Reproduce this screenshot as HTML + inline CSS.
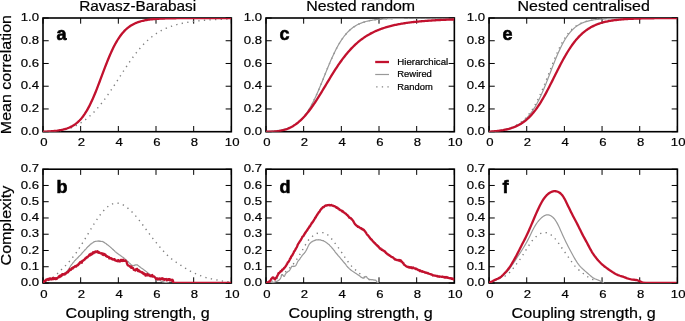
<!DOCTYPE html><html><head><meta charset="utf-8"><style>html,body{margin:0;padding:0;background:#fff;}svg{display:block;will-change:transform;}text{font-family:"Liberation Sans",sans-serif;fill:#000;stroke:#000;stroke-width:0.2px;}</style></head><body>
<svg width="685" height="321" viewBox="0 0 685 321">
<rect width="685" height="321" fill="#fff"/>
<path d="M43.00,131.70v-5.7M43.00,18.00v5.7M80.67,131.70v-5.7M80.67,18.00v5.7M118.34,131.70v-5.7M118.34,18.00v5.7M156.01,131.70v-5.7M156.01,18.00v5.7M193.68,131.70v-5.7M193.68,18.00v5.7M231.35,131.70v-5.7M231.35,18.00v5.7M43.00,131.70h5.7M231.35,131.70h-5.7M43.00,108.96h5.7M231.35,108.96h-5.7M43.00,86.22h5.7M231.35,86.22h-5.7M43.00,63.48h5.7M231.35,63.48h-5.7M43.00,40.74h5.7M231.35,40.74h-5.7M43.00,18.00h5.7M231.35,18.00h-5.7" stroke="#000" stroke-width="1" fill="none"/>
<text x="43.80" y="146.20" font-size="11.5" text-anchor="middle" textLength="7.31" lengthAdjust="spacingAndGlyphs">0</text>
<text x="81.47" y="146.20" font-size="11.5" text-anchor="middle" textLength="7.31" lengthAdjust="spacingAndGlyphs">2</text>
<text x="119.14" y="146.20" font-size="11.5" text-anchor="middle" textLength="7.31" lengthAdjust="spacingAndGlyphs">4</text>
<text x="156.81" y="146.20" font-size="11.5" text-anchor="middle" textLength="7.31" lengthAdjust="spacingAndGlyphs">6</text>
<text x="194.48" y="146.20" font-size="11.5" text-anchor="middle" textLength="7.31" lengthAdjust="spacingAndGlyphs">8</text>
<text x="232.15" y="146.20" font-size="11.5" text-anchor="middle" textLength="14.63" lengthAdjust="spacingAndGlyphs">10</text>
<text x="39.00" y="134.80" font-size="11.5" text-anchor="end" textLength="18.29" lengthAdjust="spacingAndGlyphs">0.0</text>
<text x="39.00" y="112.06" font-size="11.5" text-anchor="end" textLength="18.29" lengthAdjust="spacingAndGlyphs">0.2</text>
<text x="39.00" y="89.32" font-size="11.5" text-anchor="end" textLength="18.29" lengthAdjust="spacingAndGlyphs">0.4</text>
<text x="39.00" y="66.58" font-size="11.5" text-anchor="end" textLength="18.29" lengthAdjust="spacingAndGlyphs">0.6</text>
<text x="39.00" y="43.84" font-size="11.5" text-anchor="end" textLength="18.29" lengthAdjust="spacingAndGlyphs">0.8</text>
<text x="39.00" y="21.10" font-size="11.5" text-anchor="end" textLength="18.29" lengthAdjust="spacingAndGlyphs">1.0</text>
<rect x="43.00" y="18.00" width="188.35" height="113.70" fill="none" stroke="#000" stroke-width="1.6"/>
<clipPath id="c00"><rect x="43.00" y="18.00" width="188.35" height="113.70"/></clipPath>
<g clip-path="url(#c00)">
<path d="M43.00,131.70 L43.94,131.70 L44.88,131.70 L45.83,131.69 L46.77,131.68 L47.71,131.67 L48.65,131.65 L49.59,131.63 L50.53,131.59 L51.48,131.55 L52.42,131.50 L53.36,131.44 L54.30,131.38 L55.24,131.30 L56.18,131.21 L57.13,131.10 L58.07,130.99 L59.01,130.86 L59.95,130.72 L60.89,130.56 L61.84,130.39 L62.78,130.20 L63.72,130.00 L64.66,129.78 L65.60,129.55 L66.54,129.29 L67.49,129.02 L68.43,128.73 L69.37,128.42 L70.31,128.09 L71.25,127.74 L72.19,127.37 L73.14,126.98 L74.08,126.56 L75.02,126.12 L75.96,125.67 L76.90,125.18 L77.84,124.68 L78.79,124.15 L79.73,123.60 L80.67,123.02 L81.61,122.41 L82.55,121.78 L83.50,121.13 L84.44,120.45 L85.38,119.74 L86.32,119.01 L87.26,118.25 L88.20,117.46 L89.15,116.64 L90.09,115.80 L91.03,114.93 L91.97,114.03 L92.91,113.10 L93.85,112.15 L94.80,111.16 L95.74,110.15 L96.68,109.12 L97.62,108.05 L98.56,106.96 L99.50,105.84 L100.45,104.70 L101.39,103.53 L102.33,102.33 L103.27,101.11 L104.21,99.86 L105.16,98.60 L106.10,97.31 L107.04,96.00 L107.98,94.66 L108.92,93.31 L109.86,91.94 L110.81,90.56 L111.75,89.16 L112.69,87.74 L113.63,86.32 L114.57,84.88 L115.51,83.43 L116.46,81.97 L117.40,80.51 L118.34,79.05 L119.28,77.58 L120.22,76.11 L121.17,74.65 L122.11,73.19 L123.05,71.73 L123.99,70.28 L124.93,68.84 L125.87,67.41 L126.82,65.99 L127.76,64.58 L128.70,63.19 L129.64,61.82 L130.58,60.47 L131.52,59.14 L132.47,57.83 L133.41,56.54 L134.35,55.27 L135.29,54.03 L136.23,52.82 L137.18,51.63 L138.12,50.47 L139.06,49.34 L140.00,48.23 L140.94,47.16 L141.88,46.11 L142.83,45.09 L143.77,44.10 L144.71,43.14 L145.65,42.21 L146.59,41.31 L147.53,40.43 L148.48,39.59 L149.42,38.77 L150.36,37.98 L151.30,37.22 L152.24,36.48 L153.18,35.77 L154.13,35.08 L155.07,34.42 L156.01,33.79 L156.95,33.18 L157.89,32.59 L158.84,32.02 L159.78,31.48 L160.72,30.95 L161.66,30.45 L162.60,29.97 L163.54,29.50 L164.49,29.06 L165.43,28.63 L166.37,28.22 L167.31,27.82 L168.25,27.44 L169.19,27.08 L170.14,26.73 L171.08,26.40 L172.02,26.07 L172.96,25.77 L173.90,25.47 L174.84,25.19 L175.79,24.92 L176.73,24.65 L177.67,24.40 L178.61,24.16 L179.55,23.93 L180.50,23.71 L181.44,23.50 L182.38,23.30 L183.32,23.10 L184.26,22.92 L185.20,22.74 L186.15,22.56 L187.09,22.40 L188.03,22.24 L188.97,22.09 L189.91,21.94 L190.85,21.80 L191.80,21.67 L192.74,21.54 L193.68,21.41 L194.62,21.29 L195.56,21.18 L196.51,21.07 L197.45,20.96 L198.39,20.86 L199.33,20.76 L200.27,20.67 L201.21,20.58 L202.16,20.49 L203.10,20.41 L204.04,20.33 L204.98,20.25 L205.92,20.18 L206.86,20.10 L207.81,20.03 L208.75,19.97 L209.69,19.90 L210.63,19.84 L211.57,19.78 L212.51,19.73 L213.46,19.67 L214.40,19.62 L215.34,19.57 L216.28,19.52 L217.22,19.47 L218.17,19.42 L219.11,19.38 L220.05,19.34 L220.99,19.30 L221.93,19.26 L222.87,19.22 L223.82,19.18 L224.76,19.15 L225.70,19.11 L226.64,19.08 L227.58,19.05 L228.52,19.01 L229.47,18.98 L230.41,18.96 L231.35,18.93" fill="none" stroke="#808080" stroke-width="1.4" stroke-linejoin="round" stroke-dasharray="1.3 4.3"/>
<path d="M43.00,131.70 L43.94,131.67 L44.88,131.63 L45.83,131.59 L46.77,131.55 L47.71,131.50 L48.65,131.45 L49.59,131.39 L50.53,131.33 L51.48,131.26 L52.42,131.18 L53.36,131.10 L54.30,131.01 L55.24,130.91 L56.18,130.80 L57.13,130.68 L58.07,130.54 L59.01,130.40 L59.95,130.24 L60.89,130.07 L61.84,129.87 L62.78,129.67 L63.72,129.44 L64.66,129.19 L65.60,128.91 L66.54,128.61 L67.49,128.28 L68.43,127.93 L69.37,127.54 L70.31,127.11 L71.25,126.65 L72.19,126.14 L73.14,125.60 L74.08,125.00 L75.02,124.36 L75.96,123.66 L76.90,122.90 L77.84,122.08 L78.79,121.20 L79.73,120.25 L80.67,119.23 L81.61,118.14 L82.55,116.96 L83.50,115.71 L84.44,114.38 L85.38,112.95 L86.32,111.45 L87.26,109.85 L88.20,108.17 L89.15,106.39 L90.09,104.53 L91.03,102.59 L91.97,100.56 L92.91,98.45 L93.85,96.27 L94.80,94.02 L95.74,91.70 L96.68,89.33 L97.62,86.91 L98.56,84.46 L99.50,81.97 L100.45,79.45 L101.39,76.93 L102.33,74.41 L103.27,71.89 L104.21,69.39 L105.16,66.92 L106.10,64.48 L107.04,62.08 L107.98,59.74 L108.92,57.46 L109.86,55.24 L110.81,53.09 L111.75,51.01 L112.69,49.02 L113.63,47.10 L114.57,45.26 L115.51,43.51 L116.46,41.84 L117.40,40.26 L118.34,38.76 L119.28,37.34 L120.22,36.00 L121.17,34.74 L122.11,33.55 L123.05,32.44 L123.99,31.40 L124.93,30.42 L125.87,29.51 L126.82,28.66 L127.76,27.87 L128.70,27.13 L129.64,26.45 L130.58,25.81 L131.52,25.22 L132.47,24.67 L133.41,24.16 L134.35,23.69 L135.29,23.25 L136.23,22.85 L137.18,22.48 L138.12,22.13 L139.06,21.82 L140.00,21.52 L140.94,21.25 L141.88,21.00 L142.83,20.77 L143.77,20.56 L144.71,20.36 L145.65,20.18 L146.59,20.02 L147.53,19.86 L148.48,19.72 L149.42,19.59 L150.36,19.47 L151.30,19.36 L152.24,19.26 L153.18,19.17 L154.13,19.08 L155.07,19.00 L156.01,18.93 L156.95,18.86 L157.89,18.80 L158.84,18.74 L159.78,18.69 L160.72,18.64 L161.66,18.60 L162.60,18.56 L163.54,18.52 L164.49,18.48 L165.43,18.45 L166.37,18.42 L167.31,18.40 L168.25,18.37 L169.19,18.35 L170.14,18.32 L171.08,18.31 L172.02,18.29 L172.96,18.27 L173.90,18.25 L174.84,18.24 L175.79,18.23 L176.73,18.21 L177.67,18.20 L178.61,18.19 L179.55,18.18 L180.50,18.17 L181.44,18.16 L182.38,18.15 L183.32,18.15 L184.26,18.14 L185.20,18.13 L186.15,18.13 L187.09,18.12 L188.03,18.12 L188.97,18.11 L189.91,18.11 L190.85,18.10 L191.80,18.10 L192.74,18.09 L193.68,18.09 L194.62,18.08 L195.56,18.08 L196.51,18.08 L197.45,18.07 L198.39,18.07 L199.33,18.07 L200.27,18.07 L201.21,18.06 L202.16,18.06 L203.10,18.06 L204.04,18.06 L204.98,18.05 L205.92,18.05 L206.86,18.05 L207.81,18.05 L208.75,18.04 L209.69,18.04 L210.63,18.04 L211.57,18.04 L212.51,18.04 L213.46,18.03 L214.40,18.03 L215.34,18.03 L216.28,18.03 L217.22,18.03 L218.17,18.02 L219.11,18.02 L220.05,18.02 L220.99,18.02 L221.93,18.02 L222.87,18.02 L223.82,18.01 L224.76,18.01 L225.70,18.01 L226.64,18.01 L227.58,18.01 L228.52,18.01 L229.47,18.00 L230.41,18.00 L231.35,18.00" fill="none" stroke="#999999" stroke-width="1.2" stroke-linejoin="round"/>
<path d="M43.00,131.70 L43.94,131.67 L44.88,131.63 L45.83,131.59 L46.77,131.55 L47.71,131.50 L48.65,131.45 L49.59,131.39 L50.53,131.33 L51.48,131.26 L52.42,131.18 L53.36,131.10 L54.30,131.01 L55.24,130.91 L56.18,130.80 L57.13,130.68 L58.07,130.54 L59.01,130.40 L59.95,130.24 L60.89,130.07 L61.84,129.87 L62.78,129.67 L63.72,129.44 L64.66,129.19 L65.60,128.91 L66.54,128.61 L67.49,128.28 L68.43,127.93 L69.37,127.54 L70.31,127.11 L71.25,126.65 L72.19,126.14 L73.14,125.60 L74.08,125.00 L75.02,124.36 L75.96,123.66 L76.90,122.90 L77.84,122.08 L78.79,121.20 L79.73,120.25 L80.67,119.23 L81.61,118.14 L82.55,116.96 L83.50,115.71 L84.44,114.38 L85.38,112.95 L86.32,111.45 L87.26,109.85 L88.20,108.17 L89.15,106.39 L90.09,104.53 L91.03,102.59 L91.97,100.56 L92.91,98.45 L93.85,96.27 L94.80,94.02 L95.74,91.70 L96.68,89.33 L97.62,86.91 L98.56,84.46 L99.50,81.97 L100.45,79.45 L101.39,76.93 L102.33,74.41 L103.27,71.89 L104.21,69.39 L105.16,66.92 L106.10,64.48 L107.04,62.08 L107.98,59.74 L108.92,57.46 L109.86,55.24 L110.81,53.09 L111.75,51.01 L112.69,49.02 L113.63,47.10 L114.57,45.26 L115.51,43.51 L116.46,41.84 L117.40,40.26 L118.34,38.76 L119.28,37.34 L120.22,36.00 L121.17,34.74 L122.11,33.55 L123.05,32.44 L123.99,31.40 L124.93,30.42 L125.87,29.51 L126.82,28.66 L127.76,27.87 L128.70,27.13 L129.64,26.45 L130.58,25.81 L131.52,25.22 L132.47,24.67 L133.41,24.16 L134.35,23.69 L135.29,23.25 L136.23,22.85 L137.18,22.48 L138.12,22.13 L139.06,21.82 L140.00,21.52 L140.94,21.25 L141.88,21.00 L142.83,20.77 L143.77,20.56 L144.71,20.36 L145.65,20.18 L146.59,20.02 L147.53,19.86 L148.48,19.72 L149.42,19.59 L150.36,19.47 L151.30,19.36 L152.24,19.26 L153.18,19.17 L154.13,19.08 L155.07,19.00 L156.01,18.93 L156.95,18.86 L157.89,18.80 L158.84,18.74 L159.78,18.69 L160.72,18.64 L161.66,18.60 L162.60,18.56 L163.54,18.52 L164.49,18.48 L165.43,18.45 L166.37,18.42 L167.31,18.40 L168.25,18.37 L169.19,18.35 L170.14,18.32 L171.08,18.31 L172.02,18.29 L172.96,18.27 L173.90,18.25 L174.84,18.24 L175.79,18.23 L176.73,18.21 L177.67,18.20 L178.61,18.19 L179.55,18.18 L180.50,18.17 L181.44,18.16 L182.38,18.15 L183.32,18.15 L184.26,18.14 L185.20,18.13 L186.15,18.13 L187.09,18.12 L188.03,18.12 L188.97,18.11 L189.91,18.11 L190.85,18.10 L191.80,18.10 L192.74,18.09 L193.68,18.09 L194.62,18.08 L195.56,18.08 L196.51,18.08 L197.45,18.07 L198.39,18.07 L199.33,18.07 L200.27,18.07 L201.21,18.06 L202.16,18.06 L203.10,18.06 L204.04,18.06 L204.98,18.05 L205.92,18.05 L206.86,18.05 L207.81,18.05 L208.75,18.04 L209.69,18.04 L210.63,18.04 L211.57,18.04 L212.51,18.04 L213.46,18.03 L214.40,18.03 L215.34,18.03 L216.28,18.03 L217.22,18.03 L218.17,18.02 L219.11,18.02 L220.05,18.02 L220.99,18.02 L221.93,18.02 L222.87,18.02 L223.82,18.01 L224.76,18.01 L225.70,18.01 L226.64,18.01 L227.58,18.01 L228.52,18.01 L229.47,18.00 L230.41,18.00 L231.35,18.00" fill="none" stroke="#c2112e" stroke-width="2.3" stroke-linejoin="round"/>
</g>
<text x="56.50" y="40.40" font-size="18" font-weight="bold" style="stroke-width:0.6px">a</text>
<path d="M266.00,131.70v-5.7M266.00,18.00v5.7M303.67,131.70v-5.7M303.67,18.00v5.7M341.34,131.70v-5.7M341.34,18.00v5.7M379.01,131.70v-5.7M379.01,18.00v5.7M416.68,131.70v-5.7M416.68,18.00v5.7M454.35,131.70v-5.7M454.35,18.00v5.7M266.00,131.70h5.7M454.35,131.70h-5.7M266.00,108.96h5.7M454.35,108.96h-5.7M266.00,86.22h5.7M454.35,86.22h-5.7M266.00,63.48h5.7M454.35,63.48h-5.7M266.00,40.74h5.7M454.35,40.74h-5.7M266.00,18.00h5.7M454.35,18.00h-5.7" stroke="#000" stroke-width="1" fill="none"/>
<text x="266.80" y="146.20" font-size="11.5" text-anchor="middle" textLength="7.31" lengthAdjust="spacingAndGlyphs">0</text>
<text x="304.47" y="146.20" font-size="11.5" text-anchor="middle" textLength="7.31" lengthAdjust="spacingAndGlyphs">2</text>
<text x="342.14" y="146.20" font-size="11.5" text-anchor="middle" textLength="7.31" lengthAdjust="spacingAndGlyphs">4</text>
<text x="379.81" y="146.20" font-size="11.5" text-anchor="middle" textLength="7.31" lengthAdjust="spacingAndGlyphs">6</text>
<text x="417.48" y="146.20" font-size="11.5" text-anchor="middle" textLength="7.31" lengthAdjust="spacingAndGlyphs">8</text>
<text x="455.15" y="146.20" font-size="11.5" text-anchor="middle" textLength="14.63" lengthAdjust="spacingAndGlyphs">10</text>
<text x="262.00" y="134.80" font-size="11.5" text-anchor="end" textLength="18.29" lengthAdjust="spacingAndGlyphs">0.0</text>
<text x="262.00" y="112.06" font-size="11.5" text-anchor="end" textLength="18.29" lengthAdjust="spacingAndGlyphs">0.2</text>
<text x="262.00" y="89.32" font-size="11.5" text-anchor="end" textLength="18.29" lengthAdjust="spacingAndGlyphs">0.4</text>
<text x="262.00" y="66.58" font-size="11.5" text-anchor="end" textLength="18.29" lengthAdjust="spacingAndGlyphs">0.6</text>
<text x="262.00" y="43.84" font-size="11.5" text-anchor="end" textLength="18.29" lengthAdjust="spacingAndGlyphs">0.8</text>
<text x="262.00" y="21.10" font-size="11.5" text-anchor="end" textLength="18.29" lengthAdjust="spacingAndGlyphs">1.0</text>
<rect x="266.00" y="18.00" width="188.35" height="113.70" fill="none" stroke="#000" stroke-width="1.6"/>
<clipPath id="c10"><rect x="266.00" y="18.00" width="188.35" height="113.70"/></clipPath>
<g clip-path="url(#c10)">
<path d="M266.00,131.70 L266.94,131.65 L267.88,131.59 L268.83,131.53 L269.77,131.46 L270.71,131.39 L271.65,131.31 L272.59,131.23 L273.53,131.14 L274.48,131.04 L275.42,130.93 L276.36,130.81 L277.30,130.68 L278.24,130.54 L279.18,130.39 L280.13,130.22 L281.07,130.04 L282.01,129.85 L282.95,129.63 L283.89,129.40 L284.83,129.15 L285.78,128.88 L286.72,128.59 L287.66,128.27 L288.60,127.93 L289.54,127.56 L290.49,127.15 L291.43,126.72 L292.37,126.25 L293.31,125.74 L294.25,125.19 L295.19,124.61 L296.14,123.97 L297.08,123.29 L298.02,122.56 L298.96,121.77 L299.90,120.93 L300.84,120.03 L301.79,119.07 L302.73,118.05 L303.67,116.96 L304.61,115.80 L305.55,114.57 L306.50,113.27 L307.44,111.89 L308.38,110.44 L309.32,108.92 L310.26,107.32 L311.20,105.64 L312.15,103.89 L313.09,102.07 L314.03,100.18 L314.97,98.22 L315.91,96.20 L316.85,94.12 L317.80,91.99 L318.74,89.80 L319.68,87.57 L320.62,85.31 L321.56,83.01 L322.50,80.70 L323.45,78.37 L324.39,76.03 L325.33,73.69 L326.27,71.36 L327.21,69.05 L328.16,66.76 L329.10,64.51 L330.04,62.29 L330.98,60.11 L331.92,57.98 L332.86,55.91 L333.81,53.89 L334.75,51.94 L335.69,50.05 L336.63,48.23 L337.57,46.48 L338.51,44.81 L339.46,43.20 L340.40,41.67 L341.34,40.20 L342.28,38.81 L343.22,37.49 L344.17,36.24 L345.11,35.06 L346.05,33.94 L346.99,32.89 L347.93,31.89 L348.87,30.96 L349.82,30.08 L350.76,29.26 L351.70,28.49 L352.64,27.77 L353.58,27.09 L354.52,26.46 L355.47,25.87 L356.41,25.32 L357.35,24.81 L358.29,24.33 L359.23,23.89 L360.18,23.47 L361.12,23.09 L362.06,22.73 L363.00,22.39 L363.94,22.08 L364.88,21.80 L365.83,21.53 L366.77,21.28 L367.71,21.05 L368.65,20.84 L369.59,20.64 L370.53,20.46 L371.48,20.29 L372.42,20.13 L373.36,19.99 L374.30,19.85 L375.24,19.72 L376.18,19.61 L377.13,19.50 L378.07,19.40 L379.01,19.31 L379.95,19.22 L380.89,19.14 L381.84,19.07 L382.78,19.00 L383.72,18.94 L384.66,18.88 L385.60,18.82 L386.54,18.77 L387.49,18.73 L388.43,18.68 L389.37,18.64 L390.31,18.60 L391.25,18.57 L392.19,18.54 L393.14,18.51 L394.08,18.48 L395.02,18.45 L395.96,18.43 L396.90,18.41 L397.85,18.38 L398.79,18.36 L399.73,18.35 L400.67,18.33 L401.61,18.31 L402.55,18.30 L403.50,18.28 L404.44,18.27 L405.38,18.26 L406.32,18.25 L407.26,18.23 L408.20,18.22 L409.15,18.21 L410.09,18.21 L411.03,18.20 L411.97,18.19 L412.91,18.18 L413.85,18.17 L414.80,18.17 L415.74,18.16 L416.68,18.15 L417.62,18.15 L418.56,18.14 L419.51,18.14 L420.45,18.13 L421.39,18.12 L422.33,18.12 L423.27,18.11 L424.21,18.11 L425.16,18.11 L426.10,18.10 L427.04,18.10 L427.98,18.09 L428.92,18.09 L429.86,18.08 L430.81,18.08 L431.75,18.08 L432.69,18.07 L433.63,18.07 L434.57,18.07 L435.51,18.06 L436.46,18.06 L437.40,18.06 L438.34,18.05 L439.28,18.05 L440.22,18.05 L441.17,18.04 L442.11,18.04 L443.05,18.04 L443.99,18.03 L444.93,18.03 L445.87,18.03 L446.82,18.03 L447.76,18.02 L448.70,18.02 L449.64,18.02 L450.58,18.01 L451.52,18.01 L452.47,18.01 L453.41,18.00 L454.35,18.00" fill="none" stroke="#808080" stroke-width="1.4" stroke-linejoin="round" stroke-dasharray="1.3 4.3"/>
<path d="M266.00,131.70 L266.94,131.65 L267.88,131.59 L268.83,131.53 L269.77,131.46 L270.71,131.39 L271.65,131.31 L272.59,131.23 L273.53,131.14 L274.48,131.04 L275.42,130.93 L276.36,130.81 L277.30,130.68 L278.24,130.54 L279.18,130.39 L280.13,130.22 L281.07,130.04 L282.01,129.85 L282.95,129.63 L283.89,129.40 L284.83,129.15 L285.78,128.88 L286.72,128.59 L287.66,128.27 L288.60,127.93 L289.54,127.56 L290.49,127.15 L291.43,126.72 L292.37,126.25 L293.31,125.74 L294.25,125.19 L295.19,124.61 L296.14,123.97 L297.08,123.29 L298.02,122.56 L298.96,121.77 L299.90,120.93 L300.84,120.03 L301.79,119.07 L302.73,118.05 L303.67,116.96 L304.61,115.80 L305.55,114.57 L306.50,113.27 L307.44,111.89 L308.38,110.44 L309.32,108.92 L310.26,107.32 L311.20,105.64 L312.15,103.89 L313.09,102.07 L314.03,100.18 L314.97,98.22 L315.91,96.20 L316.85,94.12 L317.80,91.99 L318.74,89.80 L319.68,87.57 L320.62,85.31 L321.56,83.01 L322.50,80.70 L323.45,78.37 L324.39,76.03 L325.33,73.69 L326.27,71.36 L327.21,69.05 L328.16,66.76 L329.10,64.51 L330.04,62.29 L330.98,60.11 L331.92,57.98 L332.86,55.91 L333.81,53.89 L334.75,51.94 L335.69,50.05 L336.63,48.23 L337.57,46.48 L338.51,44.81 L339.46,43.20 L340.40,41.67 L341.34,40.20 L342.28,38.81 L343.22,37.49 L344.17,36.24 L345.11,35.06 L346.05,33.94 L346.99,32.89 L347.93,31.89 L348.87,30.96 L349.82,30.08 L350.76,29.26 L351.70,28.49 L352.64,27.77 L353.58,27.09 L354.52,26.46 L355.47,25.87 L356.41,25.32 L357.35,24.81 L358.29,24.33 L359.23,23.89 L360.18,23.47 L361.12,23.09 L362.06,22.73 L363.00,22.39 L363.94,22.08 L364.88,21.80 L365.83,21.53 L366.77,21.28 L367.71,21.05 L368.65,20.84 L369.59,20.64 L370.53,20.46 L371.48,20.29 L372.42,20.13 L373.36,19.99 L374.30,19.85 L375.24,19.72 L376.18,19.61 L377.13,19.50 L378.07,19.40 L379.01,19.31 L379.95,19.22 L380.89,19.14 L381.84,19.07 L382.78,19.00 L383.72,18.94 L384.66,18.88 L385.60,18.82 L386.54,18.77 L387.49,18.73 L388.43,18.68 L389.37,18.64 L390.31,18.60 L391.25,18.57 L392.19,18.54 L393.14,18.51 L394.08,18.48 L395.02,18.45 L395.96,18.43 L396.90,18.41 L397.85,18.38 L398.79,18.36 L399.73,18.35 L400.67,18.33 L401.61,18.31 L402.55,18.30 L403.50,18.28 L404.44,18.27 L405.38,18.26 L406.32,18.25 L407.26,18.23 L408.20,18.22 L409.15,18.21 L410.09,18.21 L411.03,18.20 L411.97,18.19 L412.91,18.18 L413.85,18.17 L414.80,18.17 L415.74,18.16 L416.68,18.15 L417.62,18.15 L418.56,18.14 L419.51,18.14 L420.45,18.13 L421.39,18.12 L422.33,18.12 L423.27,18.11 L424.21,18.11 L425.16,18.11 L426.10,18.10 L427.04,18.10 L427.98,18.09 L428.92,18.09 L429.86,18.08 L430.81,18.08 L431.75,18.08 L432.69,18.07 L433.63,18.07 L434.57,18.07 L435.51,18.06 L436.46,18.06 L437.40,18.06 L438.34,18.05 L439.28,18.05 L440.22,18.05 L441.17,18.04 L442.11,18.04 L443.05,18.04 L443.99,18.03 L444.93,18.03 L445.87,18.03 L446.82,18.03 L447.76,18.02 L448.70,18.02 L449.64,18.02 L450.58,18.01 L451.52,18.01 L452.47,18.01 L453.41,18.00 L454.35,18.00" fill="none" stroke="#999999" stroke-width="1.2" stroke-linejoin="round"/>
<path d="M266.00,131.70 L266.94,131.70 L267.88,131.70 L268.83,131.69 L269.77,131.68 L270.71,131.67 L271.65,131.64 L272.59,131.61 L273.53,131.56 L274.48,131.51 L275.42,131.44 L276.36,131.35 L277.30,131.25 L278.24,131.13 L279.18,131.00 L280.13,130.84 L281.07,130.66 L282.01,130.46 L282.95,130.24 L283.89,129.99 L284.83,129.72 L285.78,129.42 L286.72,129.09 L287.66,128.73 L288.60,128.34 L289.54,127.91 L290.49,127.46 L291.43,126.97 L292.37,126.45 L293.31,125.89 L294.25,125.29 L295.19,124.66 L296.14,123.99 L297.08,123.28 L298.02,122.53 L298.96,121.74 L299.90,120.92 L300.84,120.05 L301.79,119.15 L302.73,118.20 L303.67,117.21 L304.61,116.19 L305.55,115.12 L306.50,114.02 L307.44,112.88 L308.38,111.70 L309.32,110.48 L310.26,109.23 L311.20,107.95 L312.15,106.63 L313.09,105.28 L314.03,103.91 L314.97,102.50 L315.91,101.07 L316.85,99.61 L317.80,98.14 L318.74,96.64 L319.68,95.13 L320.62,93.60 L321.56,92.05 L322.50,90.50 L323.45,88.94 L324.39,87.37 L325.33,85.80 L326.27,84.23 L327.21,82.66 L328.16,81.10 L329.10,79.54 L330.04,77.99 L330.98,76.45 L331.92,74.92 L332.86,73.41 L333.81,71.91 L334.75,70.43 L335.69,68.97 L336.63,67.54 L337.57,66.12 L338.51,64.73 L339.46,63.36 L340.40,62.02 L341.34,60.71 L342.28,59.42 L343.22,58.16 L344.17,56.93 L345.11,55.73 L346.05,54.56 L346.99,53.42 L347.93,52.30 L348.87,51.22 L349.82,50.16 L350.76,49.14 L351.70,48.14 L352.64,47.18 L353.58,46.24 L354.52,45.33 L355.47,44.44 L356.41,43.59 L357.35,42.76 L358.29,41.95 L359.23,41.18 L360.18,40.42 L361.12,39.70 L362.06,38.99 L363.00,38.31 L363.94,37.65 L364.88,37.02 L365.83,36.40 L366.77,35.81 L367.71,35.24 L368.65,34.68 L369.59,34.15 L370.53,33.63 L371.48,33.13 L372.42,32.65 L373.36,32.19 L374.30,31.74 L375.24,31.30 L376.18,30.89 L377.13,30.48 L378.07,30.09 L379.01,29.72 L379.95,29.36 L380.89,29.01 L381.84,28.67 L382.78,28.34 L383.72,28.03 L384.66,27.72 L385.60,27.43 L386.54,27.15 L387.49,26.87 L388.43,26.61 L389.37,26.35 L390.31,26.11 L391.25,25.87 L392.19,25.64 L393.14,25.41 L394.08,25.20 L395.02,24.99 L395.96,24.79 L396.90,24.60 L397.85,24.41 L398.79,24.23 L399.73,24.05 L400.67,23.88 L401.61,23.72 L402.55,23.56 L403.50,23.41 L404.44,23.26 L405.38,23.12 L406.32,22.98 L407.26,22.84 L408.20,22.71 L409.15,22.59 L410.09,22.47 L411.03,22.35 L411.97,22.23 L412.91,22.12 L413.85,22.01 L414.80,21.91 L415.74,21.81 L416.68,21.71 L417.62,21.62 L418.56,21.52 L419.51,21.44 L420.45,21.35 L421.39,21.27 L422.33,21.18 L423.27,21.10 L424.21,21.03 L425.16,20.95 L426.10,20.88 L427.04,20.81 L427.98,20.74 L428.92,20.68 L429.86,20.61 L430.81,20.55 L431.75,20.49 L432.69,20.43 L433.63,20.38 L434.57,20.32 L435.51,20.27 L436.46,20.21 L437.40,20.16 L438.34,20.11 L439.28,20.07 L440.22,20.02 L441.17,19.97 L442.11,19.93 L443.05,19.89 L443.99,19.84 L444.93,19.80 L445.87,19.76 L446.82,19.72 L447.76,19.69 L448.70,19.65 L449.64,19.61 L450.58,19.58 L451.52,19.55 L452.47,19.51 L453.41,19.48 L454.35,19.45" fill="none" stroke="#c2112e" stroke-width="2.3" stroke-linejoin="round"/>
</g>
<text x="279.50" y="40.40" font-size="18" font-weight="bold" style="stroke-width:0.6px">c</text>
<path d="M489.05,131.70v-5.7M489.05,18.00v5.7M526.72,131.70v-5.7M526.72,18.00v5.7M564.39,131.70v-5.7M564.39,18.00v5.7M602.06,131.70v-5.7M602.06,18.00v5.7M639.73,131.70v-5.7M639.73,18.00v5.7M677.40,131.70v-5.7M677.40,18.00v5.7M489.05,131.70h5.7M677.40,131.70h-5.7M489.05,108.96h5.7M677.40,108.96h-5.7M489.05,86.22h5.7M677.40,86.22h-5.7M489.05,63.48h5.7M677.40,63.48h-5.7M489.05,40.74h5.7M677.40,40.74h-5.7M489.05,18.00h5.7M677.40,18.00h-5.7" stroke="#000" stroke-width="1" fill="none"/>
<text x="489.85" y="146.20" font-size="11.5" text-anchor="middle" textLength="7.31" lengthAdjust="spacingAndGlyphs">0</text>
<text x="527.52" y="146.20" font-size="11.5" text-anchor="middle" textLength="7.31" lengthAdjust="spacingAndGlyphs">2</text>
<text x="565.19" y="146.20" font-size="11.5" text-anchor="middle" textLength="7.31" lengthAdjust="spacingAndGlyphs">4</text>
<text x="602.86" y="146.20" font-size="11.5" text-anchor="middle" textLength="7.31" lengthAdjust="spacingAndGlyphs">6</text>
<text x="640.53" y="146.20" font-size="11.5" text-anchor="middle" textLength="7.31" lengthAdjust="spacingAndGlyphs">8</text>
<text x="678.20" y="146.20" font-size="11.5" text-anchor="middle" textLength="14.63" lengthAdjust="spacingAndGlyphs">10</text>
<text x="485.05" y="134.80" font-size="11.5" text-anchor="end" textLength="18.29" lengthAdjust="spacingAndGlyphs">0.0</text>
<text x="485.05" y="112.06" font-size="11.5" text-anchor="end" textLength="18.29" lengthAdjust="spacingAndGlyphs">0.2</text>
<text x="485.05" y="89.32" font-size="11.5" text-anchor="end" textLength="18.29" lengthAdjust="spacingAndGlyphs">0.4</text>
<text x="485.05" y="66.58" font-size="11.5" text-anchor="end" textLength="18.29" lengthAdjust="spacingAndGlyphs">0.6</text>
<text x="485.05" y="43.84" font-size="11.5" text-anchor="end" textLength="18.29" lengthAdjust="spacingAndGlyphs">0.8</text>
<text x="485.05" y="21.10" font-size="11.5" text-anchor="end" textLength="18.29" lengthAdjust="spacingAndGlyphs">1.0</text>
<rect x="489.05" y="18.00" width="188.35" height="113.70" fill="none" stroke="#000" stroke-width="1.6"/>
<clipPath id="c20"><rect x="489.05" y="18.00" width="188.35" height="113.70"/></clipPath>
<g clip-path="url(#c20)">
<path d="M489.05,131.70 L489.99,131.63 L490.93,131.55 L491.88,131.47 L492.82,131.38 L493.76,131.29 L494.70,131.19 L495.64,131.08 L496.58,130.96 L497.53,130.84 L498.47,130.71 L499.41,130.56 L500.35,130.41 L501.29,130.25 L502.23,130.07 L503.18,129.88 L504.12,129.68 L505.06,129.46 L506.00,129.23 L506.94,128.98 L507.88,128.71 L508.83,128.42 L509.77,128.11 L510.71,127.78 L511.65,127.43 L512.59,127.05 L513.54,126.64 L514.48,126.20 L515.42,125.73 L516.36,125.23 L517.30,124.70 L518.24,124.13 L519.19,123.52 L520.13,122.86 L521.07,122.16 L522.01,121.42 L522.95,120.63 L523.89,119.78 L524.84,118.88 L525.78,117.92 L526.72,116.90 L527.66,115.82 L528.60,114.68 L529.55,113.47 L530.49,112.18 L531.43,110.83 L532.37,109.40 L533.31,107.90 L534.25,106.32 L535.20,104.67 L536.14,102.94 L537.08,101.13 L538.02,99.25 L538.96,97.30 L539.90,95.27 L540.85,93.18 L541.79,91.02 L542.73,88.81 L543.67,86.54 L544.61,84.22 L545.56,81.86 L546.50,79.47 L547.44,77.06 L548.38,74.63 L549.32,72.19 L550.26,69.76 L551.21,67.34 L552.15,64.93 L553.09,62.56 L554.03,60.23 L554.97,57.94 L555.91,55.70 L556.86,53.53 L557.80,51.42 L558.74,49.38 L559.68,47.42 L560.62,45.53 L561.56,43.73 L562.51,42.01 L563.45,40.38 L564.39,38.83 L565.33,37.36 L566.27,35.98 L567.22,34.68 L568.16,33.46 L569.10,32.32 L570.04,31.25 L570.98,30.25 L571.92,29.32 L572.87,28.45 L573.81,27.65 L574.75,26.90 L575.69,26.21 L576.63,25.57 L577.57,24.98 L578.52,24.44 L579.46,23.93 L580.40,23.47 L581.34,23.04 L582.28,22.65 L583.23,22.29 L584.17,21.96 L585.11,21.65 L586.05,21.37 L586.99,21.11 L587.93,20.88 L588.88,20.66 L589.82,20.46 L590.76,20.28 L591.70,20.11 L592.64,19.96 L593.58,19.82 L594.53,19.69 L595.47,19.57 L596.41,19.47 L597.35,19.37 L598.29,19.27 L599.23,19.19 L600.18,19.11 L601.12,19.04 L602.06,18.98 L603.00,18.92 L603.94,18.87 L604.89,18.82 L605.83,18.77 L606.77,18.73 L607.71,18.69 L608.65,18.65 L609.59,18.62 L610.54,18.59 L611.48,18.56 L612.42,18.53 L613.36,18.51 L614.30,18.48 L615.24,18.46 L616.19,18.44 L617.13,18.43 L618.07,18.41 L619.01,18.39 L619.95,18.38 L620.89,18.36 L621.84,18.35 L622.78,18.34 L623.72,18.33 L624.66,18.32 L625.60,18.31 L626.55,18.30 L627.49,18.29 L628.43,18.28 L629.37,18.27 L630.31,18.26 L631.25,18.25 L632.20,18.24 L633.14,18.24 L634.08,18.23 L635.02,18.22 L635.96,18.22 L636.90,18.21 L637.85,18.20 L638.79,18.20 L639.73,18.19 L640.67,18.19 L641.61,18.18 L642.56,18.17 L643.50,18.17 L644.44,18.16 L645.38,18.16 L646.32,18.15 L647.26,18.15 L648.21,18.14 L649.15,18.14 L650.09,18.13 L651.03,18.13 L651.97,18.12 L652.91,18.12 L653.86,18.11 L654.80,18.11 L655.74,18.10 L656.68,18.10 L657.62,18.10 L658.57,18.09 L659.51,18.09 L660.45,18.08 L661.39,18.08 L662.33,18.07 L663.27,18.07 L664.22,18.06 L665.16,18.06 L666.10,18.05 L667.04,18.05 L667.98,18.05 L668.92,18.04 L669.87,18.04 L670.81,18.03 L671.75,18.03 L672.69,18.02 L673.63,18.02 L674.57,18.01 L675.52,18.01 L676.46,18.00 L677.40,18.00" fill="none" stroke="#808080" stroke-width="1.4" stroke-linejoin="round" stroke-dasharray="1.3 4.3"/>
<path d="M489.05,131.70 L489.99,131.63 L490.93,131.56 L491.88,131.49 L492.82,131.40 L493.76,131.32 L494.70,131.22 L495.64,131.12 L496.58,131.01 L497.53,130.90 L498.47,130.77 L499.41,130.64 L500.35,130.50 L501.29,130.35 L502.23,130.18 L503.18,130.01 L504.12,129.82 L505.06,129.62 L506.00,129.40 L506.94,129.17 L507.88,128.92 L508.83,128.66 L509.77,128.37 L510.71,128.07 L511.65,127.74 L512.59,127.39 L513.54,127.01 L514.48,126.61 L515.42,126.18 L516.36,125.72 L517.30,125.23 L518.24,124.70 L519.19,124.14 L520.13,123.53 L521.07,122.89 L522.01,122.21 L522.95,121.47 L523.89,120.69 L524.84,119.86 L525.78,118.97 L526.72,118.03 L527.66,117.03 L528.60,115.97 L529.55,114.84 L530.49,113.65 L531.43,112.39 L532.37,111.06 L533.31,109.65 L534.25,108.17 L535.20,106.62 L536.14,104.99 L537.08,103.28 L538.02,101.49 L538.96,99.63 L539.90,97.70 L540.85,95.69 L541.79,93.62 L542.73,91.48 L543.67,89.28 L544.61,87.02 L545.56,84.71 L546.50,82.36 L547.44,79.97 L548.38,77.56 L549.32,75.13 L550.26,72.68 L551.21,70.24 L552.15,67.80 L553.09,65.39 L554.03,63.00 L554.97,60.64 L555.91,58.33 L556.86,56.07 L557.80,53.87 L558.74,51.74 L559.68,49.67 L560.62,47.68 L561.56,45.77 L562.51,43.94 L563.45,42.20 L564.39,40.54 L565.33,38.97 L566.27,37.48 L567.22,36.08 L568.16,34.76 L569.10,33.52 L570.04,32.36 L570.98,31.27 L571.92,30.26 L572.87,29.32 L573.81,28.44 L574.75,27.63 L575.69,26.88 L576.63,26.18 L577.57,25.53 L578.52,24.94 L579.46,24.39 L580.40,23.88 L581.34,23.42 L582.28,22.99 L583.23,22.59 L584.17,22.23 L585.11,21.90 L586.05,21.59 L586.99,21.31 L587.93,21.06 L588.88,20.82 L589.82,20.60 L590.76,20.41 L591.70,20.22 L592.64,20.06 L593.58,19.91 L594.53,19.77 L595.47,19.64 L596.41,19.52 L597.35,19.42 L598.29,19.32 L599.23,19.23 L600.18,19.15 L601.12,19.07 L602.06,19.00 L603.00,18.94 L603.94,18.88 L604.89,18.83 L605.83,18.78 L606.77,18.73 L607.71,18.69 L608.65,18.65 L609.59,18.62 L610.54,18.59 L611.48,18.56 L612.42,18.53 L613.36,18.50 L614.30,18.48 L615.24,18.46 L616.19,18.44 L617.13,18.42 L618.07,18.40 L619.01,18.38 L619.95,18.37 L620.89,18.35 L621.84,18.34 L622.78,18.33 L623.72,18.32 L624.66,18.31 L625.60,18.29 L626.55,18.28 L627.49,18.28 L628.43,18.27 L629.37,18.26 L630.31,18.25 L631.25,18.24 L632.20,18.23 L633.14,18.23 L634.08,18.22 L635.02,18.21 L635.96,18.21 L636.90,18.20 L637.85,18.19 L638.79,18.19 L639.73,18.18 L640.67,18.18 L641.61,18.17 L642.56,18.17 L643.50,18.16 L644.44,18.16 L645.38,18.15 L646.32,18.15 L647.26,18.14 L648.21,18.14 L649.15,18.13 L650.09,18.13 L651.03,18.12 L651.97,18.12 L652.91,18.11 L653.86,18.11 L654.80,18.10 L655.74,18.10 L656.68,18.09 L657.62,18.09 L658.57,18.09 L659.51,18.08 L660.45,18.08 L661.39,18.07 L662.33,18.07 L663.27,18.06 L664.22,18.06 L665.16,18.06 L666.10,18.05 L667.04,18.05 L667.98,18.04 L668.92,18.04 L669.87,18.03 L670.81,18.03 L671.75,18.03 L672.69,18.02 L673.63,18.02 L674.57,18.01 L675.52,18.01 L676.46,18.00 L677.40,18.00" fill="none" stroke="#999999" stroke-width="1.2" stroke-linejoin="round"/>
<path d="M489.05,131.70 L489.99,131.64 L490.93,131.57 L491.88,131.50 L492.82,131.42 L493.76,131.34 L494.70,131.25 L495.64,131.15 L496.58,131.05 L497.53,130.94 L498.47,130.83 L499.41,130.70 L500.35,130.57 L501.29,130.43 L502.23,130.27 L503.18,130.11 L504.12,129.93 L505.06,129.74 L506.00,129.54 L506.94,129.32 L507.88,129.09 L508.83,128.85 L509.77,128.58 L510.71,128.30 L511.65,128.00 L512.59,127.68 L513.54,127.34 L514.48,126.97 L515.42,126.58 L516.36,126.17 L517.30,125.72 L518.24,125.25 L519.19,124.76 L520.13,124.22 L521.07,123.66 L522.01,123.06 L522.95,122.43 L523.89,121.76 L524.84,121.05 L525.78,120.30 L526.72,119.51 L527.66,118.68 L528.60,117.80 L529.55,116.88 L530.49,115.91 L531.43,114.89 L532.37,113.83 L533.31,112.71 L534.25,111.55 L535.20,110.34 L536.14,109.07 L537.08,107.76 L538.02,106.40 L538.96,104.99 L539.90,103.53 L540.85,102.02 L541.79,100.47 L542.73,98.88 L543.67,97.24 L544.61,95.57 L545.56,93.85 L546.50,92.11 L547.44,90.33 L548.38,88.53 L549.32,86.70 L550.26,84.85 L551.21,82.98 L552.15,81.11 L553.09,79.22 L554.03,77.33 L554.97,75.44 L555.91,73.55 L556.86,71.67 L557.80,69.80 L558.74,67.95 L559.68,66.11 L560.62,64.30 L561.56,62.52 L562.51,60.76 L563.45,59.04 L564.39,57.35 L565.33,55.70 L566.27,54.08 L567.22,52.51 L568.16,50.98 L569.10,49.49 L570.04,48.05 L570.98,46.65 L571.92,45.30 L572.87,44.00 L573.81,42.74 L574.75,41.53 L575.69,40.36 L576.63,39.25 L577.57,38.17 L578.52,37.14 L579.46,36.16 L580.40,35.22 L581.34,34.32 L582.28,33.46 L583.23,32.64 L584.17,31.86 L585.11,31.11 L586.05,30.41 L586.99,29.73 L587.93,29.09 L588.88,28.49 L589.82,27.91 L590.76,27.37 L591.70,26.85 L592.64,26.36 L593.58,25.89 L594.53,25.45 L595.47,25.04 L596.41,24.64 L597.35,24.27 L598.29,23.92 L599.23,23.59 L600.18,23.28 L601.12,22.98 L602.06,22.70 L603.00,22.44 L603.94,22.19 L604.89,21.95 L605.83,21.73 L606.77,21.52 L607.71,21.32 L608.65,21.14 L609.59,20.96 L610.54,20.80 L611.48,20.64 L612.42,20.50 L613.36,20.36 L614.30,20.23 L615.24,20.11 L616.19,19.99 L617.13,19.88 L618.07,19.78 L619.01,19.68 L619.95,19.59 L620.89,19.50 L621.84,19.42 L622.78,19.35 L623.72,19.27 L624.66,19.21 L625.60,19.14 L626.55,19.08 L627.49,19.03 L628.43,18.97 L629.37,18.92 L630.31,18.87 L631.25,18.83 L632.20,18.78 L633.14,18.74 L634.08,18.71 L635.02,18.67 L635.96,18.64 L636.90,18.60 L637.85,18.57 L638.79,18.54 L639.73,18.52 L640.67,18.49 L641.61,18.47 L642.56,18.44 L643.50,18.42 L644.44,18.40 L645.38,18.38 L646.32,18.36 L647.26,18.34 L648.21,18.32 L649.15,18.31 L650.09,18.29 L651.03,18.28 L651.97,18.26 L652.91,18.25 L653.86,18.24 L654.80,18.22 L655.74,18.21 L656.68,18.20 L657.62,18.19 L658.57,18.18 L659.51,18.17 L660.45,18.16 L661.39,18.15 L662.33,18.14 L663.27,18.13 L664.22,18.12 L665.16,18.12 L666.10,18.11 L667.04,18.10 L667.98,18.09 L668.92,18.09 L669.87,18.08 L670.81,18.07 L671.75,18.07 L672.69,18.06 L673.63,18.05 L674.57,18.05 L675.52,18.04 L676.46,18.03 L677.40,18.03" fill="none" stroke="#c2112e" stroke-width="2.3" stroke-linejoin="round"/>
</g>
<text x="502.55" y="40.40" font-size="18" font-weight="bold" style="stroke-width:0.6px">e</text>
<path d="M43.00,283.00v-5.7M43.00,169.20v5.7M80.67,283.00v-5.7M80.67,169.20v5.7M118.34,283.00v-5.7M118.34,169.20v5.7M156.01,283.00v-5.7M156.01,169.20v5.7M193.68,283.00v-5.7M193.68,169.20v5.7M231.35,283.00v-5.7M231.35,169.20v5.7M43.00,283.00h5.7M231.35,283.00h-5.7M43.00,266.74h5.7M231.35,266.74h-5.7M43.00,250.49h5.7M231.35,250.49h-5.7M43.00,234.23h5.7M231.35,234.23h-5.7M43.00,217.97h5.7M231.35,217.97h-5.7M43.00,201.71h5.7M231.35,201.71h-5.7M43.00,185.46h5.7M231.35,185.46h-5.7M43.00,169.20h5.7M231.35,169.20h-5.7" stroke="#000" stroke-width="1" fill="none"/>
<text x="43.80" y="297.50" font-size="11.5" text-anchor="middle" textLength="7.31" lengthAdjust="spacingAndGlyphs">0</text>
<text x="81.47" y="297.50" font-size="11.5" text-anchor="middle" textLength="7.31" lengthAdjust="spacingAndGlyphs">2</text>
<text x="119.14" y="297.50" font-size="11.5" text-anchor="middle" textLength="7.31" lengthAdjust="spacingAndGlyphs">4</text>
<text x="156.81" y="297.50" font-size="11.5" text-anchor="middle" textLength="7.31" lengthAdjust="spacingAndGlyphs">6</text>
<text x="194.48" y="297.50" font-size="11.5" text-anchor="middle" textLength="7.31" lengthAdjust="spacingAndGlyphs">8</text>
<text x="232.15" y="297.50" font-size="11.5" text-anchor="middle" textLength="14.63" lengthAdjust="spacingAndGlyphs">10</text>
<text x="39.00" y="286.10" font-size="11.5" text-anchor="end" textLength="18.29" lengthAdjust="spacingAndGlyphs">0.0</text>
<text x="39.00" y="269.84" font-size="11.5" text-anchor="end" textLength="18.29" lengthAdjust="spacingAndGlyphs">0.1</text>
<text x="39.00" y="253.59" font-size="11.5" text-anchor="end" textLength="18.29" lengthAdjust="spacingAndGlyphs">0.2</text>
<text x="39.00" y="237.33" font-size="11.5" text-anchor="end" textLength="18.29" lengthAdjust="spacingAndGlyphs">0.3</text>
<text x="39.00" y="221.07" font-size="11.5" text-anchor="end" textLength="18.29" lengthAdjust="spacingAndGlyphs">0.4</text>
<text x="39.00" y="204.81" font-size="11.5" text-anchor="end" textLength="18.29" lengthAdjust="spacingAndGlyphs">0.5</text>
<text x="39.00" y="188.56" font-size="11.5" text-anchor="end" textLength="18.29" lengthAdjust="spacingAndGlyphs">0.6</text>
<text x="39.00" y="172.30" font-size="11.5" text-anchor="end" textLength="18.29" lengthAdjust="spacingAndGlyphs">0.7</text>
<rect x="43.00" y="169.20" width="188.35" height="113.80" fill="none" stroke="#000" stroke-width="1.6"/>
<clipPath id="c01"><rect x="43.00" y="169.20" width="188.35" height="113.80"/></clipPath>
<g clip-path="url(#c01)">
<path d="M43.00,282.66 L43.94,282.44 L44.88,282.15 L45.83,281.80 L46.77,281.40 L47.71,280.95 L48.65,280.46 L49.59,279.93 L50.53,279.36 L51.48,278.75 L52.42,278.09 L53.36,277.37 L54.30,276.60 L55.24,275.77 L56.18,274.87 L57.13,273.93 L58.07,272.96 L59.01,271.98 L59.95,271.02 L60.89,270.07 L61.84,269.15 L62.78,268.26 L63.72,267.38 L64.66,266.49 L65.60,265.57 L66.54,264.61 L67.49,263.59 L68.43,262.53 L69.37,261.41 L70.31,260.26 L71.25,259.09 L72.19,257.91 L73.14,256.73 L74.08,255.55 L75.02,254.33 L75.96,253.07 L76.90,251.75 L77.84,250.37 L78.79,248.94 L79.73,247.46 L80.67,245.96 L81.61,244.43 L82.55,242.90 L83.50,241.36 L84.44,239.82 L85.38,238.27 L86.32,236.71 L87.26,235.14 L88.20,233.57 L89.15,232.00 L90.09,230.42 L91.03,228.85 L91.97,227.29 L92.91,225.74 L93.85,224.22 L94.80,222.72 L95.74,221.26 L96.68,219.82 L97.62,218.43 L98.56,217.08 L99.50,215.78 L100.45,214.53 L101.39,213.33 L102.33,212.18 L103.27,211.07 L104.21,210.03 L105.16,209.04 L106.10,208.11 L107.04,207.26 L107.98,206.48 L108.92,205.77 L109.86,205.15 L110.81,204.61 L111.75,204.16 L112.69,203.80 L113.63,203.52 L114.57,203.32 L115.51,203.18 L116.46,203.11 L117.40,203.12 L118.34,203.21 L119.28,203.38 L120.22,203.65 L121.17,204.00 L122.11,204.41 L123.05,204.89 L123.99,205.42 L124.93,206.01 L125.87,206.65 L126.82,207.35 L127.76,208.10 L128.70,208.89 L129.64,209.73 L130.58,210.60 L131.52,211.50 L132.47,212.45 L133.41,213.43 L134.35,214.45 L135.29,215.51 L136.23,216.61 L137.18,217.74 L138.12,218.90 L139.06,220.08 L140.00,221.27 L140.94,222.49 L141.88,223.73 L142.83,224.99 L143.77,226.25 L144.71,227.53 L145.65,228.82 L146.59,230.10 L147.53,231.39 L148.48,232.68 L149.42,233.96 L150.36,235.23 L151.30,236.48 L152.24,237.71 L153.18,238.92 L154.13,240.10 L155.07,241.25 L156.01,242.40 L156.95,243.54 L157.89,244.67 L158.84,245.80 L159.78,246.93 L160.72,248.04 L161.66,249.14 L162.60,250.21 L163.54,251.25 L164.49,252.27 L165.43,253.26 L166.37,254.22 L167.31,255.15 L168.25,256.06 L169.19,256.93 L170.14,257.77 L171.08,258.57 L172.02,259.32 L172.96,260.04 L173.90,260.71 L174.84,261.36 L175.79,261.99 L176.73,262.61 L177.67,263.22 L178.61,263.84 L179.55,264.45 L180.50,265.06 L181.44,265.67 L182.38,266.28 L183.32,266.88 L184.26,267.48 L185.20,268.07 L186.15,268.66 L187.09,269.24 L188.03,269.82 L188.97,270.38 L189.91,270.93 L190.85,271.45 L191.80,271.95 L192.74,272.43 L193.68,272.88 L194.62,273.31 L195.56,273.72 L196.51,274.11 L197.45,274.49 L198.39,274.86 L199.33,275.22 L200.27,275.57 L201.21,275.92 L202.16,276.26 L203.10,276.60 L204.04,276.93 L204.98,277.25 L205.92,277.55 L206.86,277.83 L207.81,278.09 L208.75,278.33 L209.69,278.54 L210.63,278.74 L211.57,278.93 L212.51,279.12 L213.46,279.29 L214.40,279.47 L215.34,279.65 L216.28,279.82 L217.22,280.00 L218.17,280.19 L219.11,280.37 L220.05,280.56 L220.99,280.75 L221.93,280.93 L222.87,281.10 L223.82,281.26 L224.76,281.40 L225.70,281.53 L226.64,281.64 L227.58,281.73 L228.52,281.81 L229.47,281.88 L230.41,281.93 L231.35,281.97" fill="none" stroke="#808080" stroke-width="1.4" stroke-linejoin="round" stroke-dasharray="1.3 4.3"/>
<path d="M43.00,283.00 L43.38,282.61 L43.75,281.91 L44.13,281.82 L44.51,281.60 L44.88,281.31 L45.26,280.92 L45.64,280.76 L46.01,280.39 L46.39,280.25 L46.77,280.10 L47.14,279.87 L47.52,279.84 L47.90,279.93 L48.27,279.77 L48.65,279.95 L49.03,279.92 L49.40,279.95 L49.78,279.70 L50.16,279.84 L50.53,279.54 L50.91,279.52 L51.29,279.59 L51.66,279.57 L52.04,279.29 L52.42,279.22 L52.79,279.40 L53.17,279.17 L53.55,279.32 L53.92,279.12 L54.30,279.00 L54.68,278.87 L55.05,278.82 L55.43,278.56 L55.81,278.56 L56.18,278.22 L56.56,278.10 L56.94,277.88 L57.31,277.86 L57.69,277.62 L58.07,277.33 L58.44,277.49 L58.82,277.03 L59.20,276.87 L59.57,276.74 L59.95,276.71 L60.33,276.28 L60.70,276.18 L61.08,275.90 L61.46,275.49 L61.84,275.53 L62.21,275.32 L62.59,274.92 L62.97,274.69 L63.34,274.25 L63.72,273.97 L64.10,273.82 L64.47,273.65 L64.85,273.21 L65.23,272.99 L65.60,272.74 L65.98,272.30 L66.36,272.00 L66.73,271.74 L67.11,271.05 L67.49,270.90 L67.86,270.15 L68.24,269.93 L68.62,269.35 L68.99,268.66 L69.37,267.98 L69.75,267.47 L70.12,266.80 L70.50,266.25 L70.88,265.55 L71.25,265.18 L71.63,264.48 L72.01,264.07 L72.38,263.57 L72.76,263.29 L73.14,262.49 L73.51,262.16 L73.89,261.90 L74.27,261.24 L74.64,260.74 L75.02,260.51 L75.40,260.04 L75.77,259.78 L76.15,259.19 L76.53,258.95 L76.90,258.64 L77.28,258.31 L77.66,257.69 L78.03,257.62 L78.41,256.97 L78.79,256.51 L79.16,256.19 L79.54,255.93 L79.92,255.48 L80.29,255.18 L80.67,254.79 L81.05,254.37 L81.42,253.90 L81.80,253.75 L82.18,252.86 L82.55,252.51 L82.93,252.25 L83.31,251.75 L83.68,251.18 L84.06,250.96 L84.44,250.54 L84.81,249.90 L85.19,249.86 L85.57,249.48 L85.94,249.04 L86.32,248.41 L86.70,248.07 L87.07,247.52 L87.45,247.29 L87.83,246.80 L88.20,246.56 L88.58,246.10 L88.96,245.90 L89.33,245.52 L89.71,245.22 L90.09,244.54 L90.46,244.19 L90.84,244.16 L91.22,243.75 L91.59,243.58 L91.97,243.28 L92.35,242.97 L92.72,242.77 L93.10,242.45 L93.48,242.18 L93.85,241.78 L94.23,241.90 L94.61,241.55 L94.98,241.55 L95.36,241.39 L95.74,241.45 L96.11,241.26 L96.49,241.23 L96.87,241.18 L97.24,241.04 L97.62,241.03 L98.00,241.06 L98.37,241.05 L98.75,240.94 L99.13,241.35 L99.50,240.97 L99.88,241.10 L100.26,241.48 L100.64,241.18 L101.01,241.43 L101.39,241.50 L101.77,241.49 L102.14,241.44 L102.52,241.52 L102.90,241.82 L103.27,242.03 L103.65,241.90 L104.03,242.38 L104.40,242.50 L104.78,242.93 L105.16,243.09 L105.53,243.22 L105.91,243.52 L106.29,243.83 L106.66,244.23 L107.04,244.70 L107.42,244.66 L107.79,244.92 L108.17,245.28 L108.55,245.50 L108.92,245.89 L109.30,246.17 L109.68,246.44 L110.05,246.66 L110.43,247.10 L110.81,247.52 L111.18,247.75 L111.56,248.27 L111.94,248.55 L112.31,248.77 L112.69,249.34 L113.07,249.35 L113.44,249.97 L113.82,250.40 L114.20,250.49 L114.57,250.86 L114.95,251.34 L115.33,251.75 L115.70,251.99 L116.08,252.31 L116.46,252.74 L116.83,252.99 L117.21,253.14 L117.59,253.57 L117.96,253.88 L118.34,253.98 L118.72,254.47 L119.09,254.59 L119.47,255.02 L119.85,255.00 L120.22,255.32 L120.60,255.49 L120.98,256.06 L121.35,256.31 L121.73,256.58 L122.11,256.84 L122.48,257.04 L122.86,257.31 L123.24,257.29 L123.61,257.83 L123.99,258.05 L124.37,258.41 L124.74,258.64 L125.12,259.29 L125.50,259.51 L125.87,259.67 L126.25,260.26 L126.63,260.55 L127.00,260.78 L127.38,261.20 L127.76,261.47 L128.13,261.60 L128.51,262.01 L128.89,262.60 L129.26,262.93 L129.64,263.29 L130.02,263.49 L130.39,263.92 L130.77,264.34 L131.15,264.74 L131.52,264.84 L131.90,265.06 L132.28,265.52 L132.65,265.53 L133.03,265.55 L133.41,265.51 L133.78,265.45 L134.16,265.61 L134.54,265.39 L134.91,265.07 L135.29,264.83 L135.67,265.07 L136.04,264.99 L136.42,264.95 L136.80,264.97 L137.18,264.78 L137.55,265.03 L137.93,265.48 L138.31,265.63 L138.68,265.98 L139.06,266.18 L139.44,266.47 L139.81,266.91 L140.19,267.08 L140.57,267.39 L140.94,267.68 L141.32,267.93 L141.70,268.31 L142.07,268.60 L142.45,268.55 L142.83,268.96 L143.20,269.20 L143.58,269.65 L143.96,269.72 L144.33,270.23 L144.71,270.50 L145.09,270.78 L145.46,270.87 L145.84,271.25 L146.22,271.43 L146.59,271.91 L146.97,272.27 L147.35,272.27 L147.72,272.66 L148.10,273.04 L148.48,273.29 L148.85,273.83 L149.23,273.92 L149.61,274.25 L149.98,274.35 L150.36,274.93 L150.74,275.01 L151.11,275.32 L151.49,275.47 L151.87,275.43 L152.24,275.70 L152.62,275.95 L153.00,276.37 L153.37,276.46 L153.75,276.78 L154.13,276.97 L154.50,277.17 L154.88,277.47 L155.26,277.59 L155.63,277.60 L156.01,277.95 L156.39,278.48 L156.76,278.41 L157.14,278.96 L157.52,279.26 L157.89,279.25 L158.27,279.62 L158.65,279.66 L159.02,280.15 L159.40,280.18 L159.78,280.31 L160.15,280.60 L160.53,280.76 L160.91,280.91 L161.28,281.16 L161.66,281.27 L162.04,281.36 L162.41,281.69 L162.79,282.00 L163.17,281.84 L163.54,281.87 L163.92,281.95 L164.30,282.24 L164.67,282.23 L165.05,282.35 L165.43,282.43 L165.80,282.51 L166.18,282.60 L166.56,282.68 L166.93,282.75 L167.31,282.82 L167.69,282.88 L168.06,282.93 L168.44,282.97 L168.82,282.99 L169.19,283.00" fill="none" stroke="#999999" stroke-width="1.2" stroke-linejoin="round"/>
<path d="M43.00,283.00 L43.38,282.57 L43.75,282.03 L44.13,281.37 L44.51,281.19 L44.88,280.60 L45.26,280.72 L45.64,280.92 L46.01,279.76 L46.39,279.44 L46.77,279.81 L47.14,279.70 L47.52,279.55 L47.90,279.05 L48.27,279.43 L48.65,279.73 L49.03,278.80 L49.40,279.18 L49.78,278.52 L50.16,278.78 L50.53,278.51 L50.91,279.21 L51.29,278.72 L51.66,279.38 L52.04,279.30 L52.42,279.11 L52.79,278.02 L53.17,278.87 L53.55,279.05 L53.92,279.07 L54.30,278.28 L54.68,278.70 L55.05,278.41 L55.43,278.41 L55.81,279.17 L56.18,278.25 L56.56,278.48 L56.94,278.71 L57.31,277.84 L57.69,277.81 L58.07,277.64 L58.44,277.35 L58.82,276.49 L59.20,276.82 L59.57,277.15 L59.95,275.58 L60.33,276.40 L60.70,275.79 L61.08,275.17 L61.46,276.10 L61.84,275.30 L62.21,274.19 L62.59,274.58 L62.97,274.65 L63.34,274.18 L63.72,274.46 L64.10,274.01 L64.47,274.24 L64.85,274.48 L65.23,273.41 L65.60,273.67 L65.98,273.20 L66.36,273.25 L66.73,272.39 L67.11,272.34 L67.49,272.17 L67.86,272.30 L68.24,272.03 L68.62,270.56 L68.99,270.45 L69.37,270.78 L69.75,269.27 L70.12,269.63 L70.50,269.46 L70.88,269.75 L71.25,269.18 L71.63,268.43 L72.01,268.13 L72.38,267.93 L72.76,268.50 L73.14,267.41 L73.51,267.27 L73.89,267.38 L74.27,266.99 L74.64,266.77 L75.02,266.17 L75.40,266.47 L75.77,266.06 L76.15,266.54 L76.53,266.07 L76.90,265.50 L77.28,265.55 L77.66,264.82 L78.03,265.17 L78.41,264.41 L78.79,264.38 L79.16,263.25 L79.54,263.70 L79.92,262.48 L80.29,262.02 L80.67,262.48 L81.05,261.90 L81.42,262.06 L81.80,262.68 L82.18,260.98 L82.55,260.75 L82.93,260.81 L83.31,260.63 L83.68,260.01 L84.06,259.68 L84.44,259.77 L84.81,259.37 L85.19,258.34 L85.57,258.45 L85.94,258.19 L86.32,257.39 L86.70,257.67 L87.07,256.87 L87.45,257.40 L87.83,256.77 L88.20,256.45 L88.58,255.88 L88.96,255.83 L89.33,254.73 L89.71,254.86 L90.09,255.29 L90.46,253.92 L90.84,255.01 L91.22,253.60 L91.59,254.47 L91.97,253.47 L92.35,253.91 L92.72,253.32 L93.10,252.29 L93.48,253.27 L93.85,253.11 L94.23,252.22 L94.61,251.97 L94.98,251.91 L95.36,251.49 L95.74,252.38 L96.11,251.60 L96.49,251.80 L96.87,251.44 L97.24,251.51 L97.62,251.22 L98.00,252.45 L98.37,251.98 L98.75,252.70 L99.13,252.52 L99.50,252.45 L99.88,252.87 L100.26,252.99 L100.64,253.42 L101.01,253.38 L101.39,253.53 L101.77,253.14 L102.14,253.50 L102.52,254.70 L102.90,253.76 L103.27,253.70 L103.65,254.46 L104.03,255.10 L104.40,254.02 L104.78,254.81 L105.16,254.88 L105.53,254.64 L105.91,256.03 L106.29,255.96 L106.66,256.25 L107.04,256.11 L107.42,256.89 L107.79,256.67 L108.17,257.07 L108.55,256.86 L108.92,257.02 L109.30,258.37 L109.68,257.73 L110.05,258.26 L110.43,258.27 L110.81,258.23 L111.18,258.33 L111.56,258.98 L111.94,258.68 L112.31,258.87 L112.69,259.07 L113.07,259.71 L113.44,259.61 L113.82,259.60 L114.20,259.32 L114.57,259.11 L114.95,260.33 L115.33,260.51 L115.70,260.18 L116.08,260.64 L116.46,260.88 L116.83,261.01 L117.21,261.12 L117.59,260.52 L117.96,261.41 L118.34,260.15 L118.72,261.09 L119.09,260.90 L119.47,261.06 L119.85,261.49 L120.22,261.29 L120.60,260.09 L120.98,259.82 L121.35,260.94 L121.73,260.11 L122.11,260.56 L122.48,260.96 L122.86,259.87 L123.24,259.70 L123.61,260.82 L123.99,260.79 L124.37,260.74 L124.74,260.95 L125.12,260.65 L125.50,260.47 L125.87,261.26 L126.25,261.40 L126.63,261.87 L127.00,263.73 L127.38,264.36 L127.76,265.31 L128.13,265.16 L128.51,265.58 L128.89,265.64 L129.26,265.87 L129.64,266.51 L130.02,266.20 L130.39,266.85 L130.77,266.98 L131.15,267.89 L131.52,266.54 L131.90,267.79 L132.28,267.67 L132.65,268.13 L133.03,267.95 L133.41,268.86 L133.78,269.80 L134.16,269.71 L134.54,269.92 L134.91,269.85 L135.29,270.57 L135.67,270.10 L136.04,269.17 L136.42,269.89 L136.80,269.36 L137.18,268.83 L137.55,270.12 L137.93,271.04 L138.31,270.56 L138.68,270.14 L139.06,270.40 L139.44,271.51 L139.81,271.27 L140.19,271.44 L140.57,271.62 L140.94,271.89 L141.32,272.46 L141.70,272.57 L142.07,272.64 L142.45,272.33 L142.83,273.31 L143.20,273.06 L143.58,274.16 L143.96,273.39 L144.33,274.17 L144.71,274.47 L145.09,274.08 L145.46,275.60 L145.84,275.57 L146.22,274.78 L146.59,275.40 L146.97,275.28 L147.35,273.98 L147.72,275.31 L148.10,275.21 L148.48,275.31 L148.85,274.83 L149.23,275.23 L149.61,275.31 L149.98,275.97 L150.36,275.64 L150.74,275.55 L151.11,276.30 L151.49,275.41 L151.87,275.54 L152.24,274.96 L152.62,276.56 L153.00,276.38 L153.37,276.46 L153.75,276.47 L154.13,276.49 L154.50,276.98 L154.88,277.26 L155.26,277.72 L155.63,278.11 L156.01,279.01 L156.39,278.79 L156.76,278.67 L157.14,278.51 L157.52,278.51 L157.89,279.54 L158.27,279.07 L158.65,278.88 L159.02,278.71 L159.40,278.37 L159.78,278.85 L160.15,279.28 L160.53,278.72 L160.91,278.81 L161.28,278.83 L161.66,279.00 L162.04,278.26 L162.41,278.90 L162.79,278.65 L163.17,279.47 L163.54,278.77 L163.92,279.42 L164.30,279.89 L164.67,279.11 L165.05,279.03 L165.43,279.43 L165.80,279.39 L166.18,278.99 L166.56,279.68 L166.93,280.42 L167.31,279.44 L167.69,279.49 L168.06,279.14 L168.44,279.78 L168.82,279.09 L169.19,279.17 L169.57,280.25 L169.95,279.28 L170.32,280.19 L170.70,280.41 L171.08,279.87 L171.45,280.03 L171.83,280.70 L172.21,279.79 L172.58,279.92 L172.96,280.77 L173.34,282.69 L173.71,283.00 L174.09,283.00 L174.47,283.00 L174.84,283.00 L175.22,283.00 L175.60,283.00 L175.98,283.00 L176.35,283.00 L176.73,283.00 L177.11,283.00 L177.48,283.00 L177.86,283.00 L178.24,283.00 L178.61,283.00 L178.99,283.00 L179.37,283.00 L179.74,283.00 L180.12,283.00 L180.50,283.00 L180.87,283.00 L181.25,283.00 L181.63,283.00 L182.00,283.00 L182.38,283.00 L182.76,283.00 L183.13,283.00 L183.51,283.00 L183.89,283.00 L184.26,283.00 L184.64,283.00 L185.02,283.00 L185.39,283.00 L185.77,283.00 L186.15,283.00 L186.52,283.00 L186.90,283.00 L187.28,283.00 L187.65,283.00 L188.03,283.00 L188.41,283.00 L188.78,283.00 L189.16,283.00 L189.54,283.00 L189.91,283.00 L190.29,283.00 L190.67,283.00 L191.04,283.00 L191.42,283.00 L191.80,283.00 L192.17,283.00 L192.55,283.00 L192.93,283.00 L193.30,283.00 L193.68,283.00 L194.06,283.00 L194.43,283.00 L194.81,283.00 L195.19,283.00 L195.56,283.00 L195.94,283.00 L196.32,283.00 L196.69,283.00 L197.07,283.00 L197.45,283.00 L197.82,283.00 L198.20,283.00 L198.58,283.00 L198.95,283.00 L199.33,283.00 L199.71,283.00 L200.08,283.00 L200.46,283.00 L200.84,283.00 L201.21,283.00 L201.59,283.00 L201.97,283.00 L202.34,283.00 L202.72,283.00 L203.10,283.00 L203.47,283.00 L203.85,283.00 L204.23,283.00 L204.60,283.00 L204.98,283.00 L205.36,283.00 L205.73,283.00 L206.11,283.00 L206.49,283.00 L206.86,283.00 L207.24,283.00 L207.62,283.00 L207.99,283.00 L208.37,283.00 L208.75,283.00 L209.12,283.00 L209.50,283.00 L209.88,283.00 L210.25,283.00 L210.63,283.00 L211.01,283.00 L211.38,283.00 L211.76,283.00 L212.14,283.00 L212.51,283.00 L212.89,283.00 L213.27,283.00 L213.65,283.00 L214.02,283.00 L214.40,283.00 L214.78,283.00 L215.15,283.00 L215.53,283.00 L215.91,283.00 L216.28,283.00 L216.66,283.00 L217.04,283.00 L217.41,283.00 L217.79,283.00 L218.17,283.00 L218.54,283.00 L218.92,283.00 L219.30,283.00 L219.67,283.00 L220.05,283.00 L220.43,283.00 L220.80,283.00 L221.18,283.00 L221.56,283.00 L221.93,283.00 L222.31,283.00 L222.69,283.00 L223.06,283.00 L223.44,283.00 L223.82,283.00 L224.19,283.00 L224.57,283.00 L224.95,283.00 L225.32,283.00 L225.70,283.00 L226.08,283.00 L226.45,283.00 L226.83,283.00 L227.21,283.00 L227.58,283.00 L227.96,283.00 L228.34,283.00 L228.71,283.00 L229.09,283.00 L229.47,283.00 L229.84,283.00 L230.22,283.00 L230.60,283.00 L230.97,283.00 L231.35,283.00" fill="none" stroke="#c2112e" stroke-width="2.3" stroke-linejoin="round"/>
</g>
<text x="56.50" y="193.10" font-size="18" font-weight="bold" style="stroke-width:0.6px">b</text>
<path d="M266.00,283.00v-5.7M266.00,169.20v5.7M303.67,283.00v-5.7M303.67,169.20v5.7M341.34,283.00v-5.7M341.34,169.20v5.7M379.01,283.00v-5.7M379.01,169.20v5.7M416.68,283.00v-5.7M416.68,169.20v5.7M454.35,283.00v-5.7M454.35,169.20v5.7M266.00,283.00h5.7M454.35,283.00h-5.7M266.00,266.74h5.7M454.35,266.74h-5.7M266.00,250.49h5.7M454.35,250.49h-5.7M266.00,234.23h5.7M454.35,234.23h-5.7M266.00,217.97h5.7M454.35,217.97h-5.7M266.00,201.71h5.7M454.35,201.71h-5.7M266.00,185.46h5.7M454.35,185.46h-5.7M266.00,169.20h5.7M454.35,169.20h-5.7" stroke="#000" stroke-width="1" fill="none"/>
<text x="266.80" y="297.50" font-size="11.5" text-anchor="middle" textLength="7.31" lengthAdjust="spacingAndGlyphs">0</text>
<text x="304.47" y="297.50" font-size="11.5" text-anchor="middle" textLength="7.31" lengthAdjust="spacingAndGlyphs">2</text>
<text x="342.14" y="297.50" font-size="11.5" text-anchor="middle" textLength="7.31" lengthAdjust="spacingAndGlyphs">4</text>
<text x="379.81" y="297.50" font-size="11.5" text-anchor="middle" textLength="7.31" lengthAdjust="spacingAndGlyphs">6</text>
<text x="417.48" y="297.50" font-size="11.5" text-anchor="middle" textLength="7.31" lengthAdjust="spacingAndGlyphs">8</text>
<text x="455.15" y="297.50" font-size="11.5" text-anchor="middle" textLength="14.63" lengthAdjust="spacingAndGlyphs">10</text>
<text x="262.00" y="286.10" font-size="11.5" text-anchor="end" textLength="18.29" lengthAdjust="spacingAndGlyphs">0.0</text>
<text x="262.00" y="269.84" font-size="11.5" text-anchor="end" textLength="18.29" lengthAdjust="spacingAndGlyphs">0.1</text>
<text x="262.00" y="253.59" font-size="11.5" text-anchor="end" textLength="18.29" lengthAdjust="spacingAndGlyphs">0.2</text>
<text x="262.00" y="237.33" font-size="11.5" text-anchor="end" textLength="18.29" lengthAdjust="spacingAndGlyphs">0.3</text>
<text x="262.00" y="221.07" font-size="11.5" text-anchor="end" textLength="18.29" lengthAdjust="spacingAndGlyphs">0.4</text>
<text x="262.00" y="204.81" font-size="11.5" text-anchor="end" textLength="18.29" lengthAdjust="spacingAndGlyphs">0.5</text>
<text x="262.00" y="188.56" font-size="11.5" text-anchor="end" textLength="18.29" lengthAdjust="spacingAndGlyphs">0.6</text>
<text x="262.00" y="172.30" font-size="11.5" text-anchor="end" textLength="18.29" lengthAdjust="spacingAndGlyphs">0.7</text>
<rect x="266.00" y="169.20" width="188.35" height="113.80" fill="none" stroke="#000" stroke-width="1.6"/>
<clipPath id="c11"><rect x="266.00" y="169.20" width="188.35" height="113.80"/></clipPath>
<g clip-path="url(#c11)">
<path d="M266.00,282.81 L266.94,282.68 L267.88,282.50 L268.83,282.27 L269.77,282.00 L270.71,281.69 L271.65,281.34 L272.59,280.96 L273.53,280.55 L274.48,280.10 L275.42,279.61 L276.36,279.08 L277.30,278.50 L278.24,277.86 L279.18,277.18 L280.13,276.45 L281.07,275.68 L282.01,274.89 L282.95,274.08 L283.89,273.26 L284.83,272.43 L285.78,271.60 L286.72,270.76 L287.66,269.90 L288.60,269.02 L289.54,268.12 L290.49,267.18 L291.43,266.20 L292.37,265.15 L293.31,264.04 L294.25,262.85 L295.19,261.56 L296.14,260.20 L297.08,258.76 L298.02,257.28 L298.96,255.78 L299.90,254.28 L300.84,252.79 L301.79,251.27 L302.73,249.68 L303.67,248.02 L304.61,246.28 L305.55,244.56 L306.50,242.93 L307.44,241.47 L308.38,240.22 L309.32,239.14 L310.26,238.20 L311.20,237.35 L312.15,236.55 L313.09,235.81 L314.03,235.12 L314.97,234.50 L315.91,233.96 L316.85,233.49 L317.80,233.13 L318.74,232.86 L319.68,232.69 L320.62,232.59 L321.56,232.58 L322.50,232.63 L323.45,232.75 L324.39,232.98 L325.33,233.32 L326.27,233.80 L327.21,234.42 L328.16,235.18 L329.10,236.05 L330.04,237.02 L330.98,238.08 L331.92,239.22 L332.86,240.41 L333.81,241.64 L334.75,242.89 L335.69,244.15 L336.63,245.41 L337.57,246.67 L338.51,247.94 L339.46,249.24 L340.40,250.58 L341.34,251.96 L342.28,253.38 L343.22,254.80 L344.17,256.20 L345.11,257.59 L346.05,258.94 L346.99,260.26 L347.93,261.55 L348.87,262.81 L349.82,264.02 L350.76,265.19 L351.70,266.28 L352.64,267.29 L353.58,268.22 L354.52,269.08 L355.47,269.89 L356.41,270.68 L357.35,271.47 L358.29,272.27 L359.23,273.09 L360.18,273.91 L361.12,274.70 L362.06,275.46 L363.00,276.17 L363.94,276.83 L364.88,277.43 L365.83,277.99 L366.77,278.50 L367.71,278.97 L368.65,279.40 L369.59,279.79 L370.53,280.15 L371.48,280.47" fill="none" stroke="#808080" stroke-width="1.4" stroke-linejoin="round" stroke-dasharray="1.3 4.3"/>
<path d="M266.00,283.00 L266.38,283.00 L266.75,282.99 L267.13,282.98 L267.51,282.97 L267.88,282.95 L268.26,282.93 L268.64,282.90 L269.01,282.88 L269.39,282.85 L269.77,282.81 L270.14,282.78 L270.52,282.74 L270.90,282.70 L271.27,282.65 L271.65,282.61 L272.03,282.56 L272.40,282.51 L272.78,282.46 L273.16,282.40 L273.53,282.35 L273.91,282.43 L274.29,282.22 L274.66,282.02 L275.04,281.98 L275.42,281.89 L275.79,281.59 L276.17,281.54 L276.55,281.27 L276.92,281.29 L277.30,281.22 L277.68,280.81 L278.05,280.81 L278.43,280.42 L278.81,280.30 L279.18,279.96 L279.56,279.52 L279.94,279.18 L280.31,278.63 L280.69,278.03 L281.07,276.87 L281.44,275.83 L281.82,274.58 L282.20,274.51 L282.57,274.58 L282.95,275.12 L283.33,275.63 L283.70,276.32 L284.08,276.50 L284.46,276.21 L284.83,275.48 L285.21,274.36 L285.59,273.91 L285.97,273.24 L286.34,272.83 L286.72,272.56 L287.10,272.36 L287.47,271.98 L287.85,271.63 L288.23,271.34 L288.60,271.21 L288.98,271.01 L289.36,270.61 L289.73,270.21 L290.11,269.56 L290.49,268.73 L290.86,268.18 L291.24,267.37 L291.62,266.45 L291.99,266.22 L292.37,266.38 L292.75,266.38 L293.12,266.18 L293.50,266.53 L293.88,266.42 L294.25,266.37 L294.63,266.24 L295.01,265.98 L295.38,265.95 L295.76,265.61 L296.14,264.93 L296.51,264.02 L296.89,263.57 L297.27,262.62 L297.64,261.71 L298.02,261.35 L298.40,260.40 L298.77,260.22 L299.15,259.81 L299.53,259.30 L299.90,258.99 L300.28,258.24 L300.66,257.55 L301.03,257.24 L301.41,256.75 L301.79,256.11 L302.16,255.48 L302.54,255.16 L302.92,254.67 L303.29,254.25 L303.67,253.84 L304.05,253.51 L304.42,253.04 L304.80,252.67 L305.18,251.95 L305.55,251.61 L305.93,250.73 L306.31,250.33 L306.68,249.40 L307.06,248.64 L307.44,247.98 L307.81,246.85 L308.19,246.28 L308.57,245.55 L308.94,244.78 L309.32,244.21 L309.70,243.71 L310.07,243.32 L310.45,243.03 L310.83,242.55 L311.20,242.32 L311.58,241.93 L311.96,241.81 L312.33,241.26 L312.71,241.30 L313.09,241.16 L313.46,240.75 L313.84,240.91 L314.22,240.79 L314.59,240.57 L314.97,240.20 L315.35,240.30 L315.72,239.97 L316.10,240.02 L316.48,239.84 L316.85,239.93 L317.23,239.77 L317.61,239.85 L317.98,239.89 L318.36,239.67 L318.74,239.82 L319.11,239.73 L319.49,239.79 L319.87,239.83 L320.24,239.85 L320.62,239.95 L321.00,240.22 L321.37,240.34 L321.75,240.32 L322.13,240.53 L322.50,240.67 L322.88,240.75 L323.26,240.54 L323.64,240.93 L324.01,241.26 L324.39,241.34 L324.77,241.51 L325.14,241.71 L325.52,242.03 L325.90,242.21 L326.27,242.62 L326.65,242.79 L327.03,243.08 L327.40,243.43 L327.78,243.80 L328.16,243.94 L328.53,244.33 L328.91,244.58 L329.29,244.82 L329.66,245.32 L330.04,245.77 L330.42,246.14 L330.79,246.48 L331.17,246.87 L331.55,247.17 L331.92,247.72 L332.30,248.35 L332.68,248.56 L333.05,249.04 L333.43,249.68 L333.81,250.01 L334.18,250.53 L334.56,250.87 L334.94,251.61 L335.31,252.19 L335.69,252.52 L336.07,253.15 L336.44,253.62 L336.82,253.64 L337.20,254.58 L337.57,254.69 L337.95,255.35 L338.33,255.79 L338.70,256.14 L339.08,256.55 L339.46,256.98 L339.83,257.41 L340.21,257.85 L340.59,258.26 L340.96,258.79 L341.34,259.27 L341.72,259.69 L342.09,260.21 L342.47,260.53 L342.85,261.11 L343.22,261.65 L343.60,262.20 L343.98,262.31 L344.35,263.01 L344.73,263.40 L345.11,263.58 L345.48,264.19 L345.86,264.61 L346.24,265.25 L346.61,265.83 L346.99,266.27 L347.37,266.61 L347.74,267.20 L348.12,267.51 L348.50,267.92 L348.87,268.11 L349.25,268.58 L349.63,268.97 L350.00,269.25 L350.38,269.54 L350.76,269.90 L351.13,270.36 L351.51,270.57 L351.89,270.81 L352.26,271.00 L352.64,271.24 L353.02,271.55 L353.39,271.71 L353.77,272.07 L354.15,272.29 L354.52,272.52 L354.90,272.83 L355.28,273.06 L355.65,273.35 L356.03,273.45 L356.41,273.69 L356.78,273.95 L357.16,274.18 L357.54,274.68 L357.91,274.67 L358.29,275.05 L358.67,275.32 L359.04,275.64 L359.42,275.71 L359.80,275.95 L360.18,276.32 L360.55,276.81 L360.93,276.86 L361.31,277.27 L361.68,277.54 L362.06,277.52 L362.44,277.98 L362.81,278.08 L363.19,277.90 L363.57,278.23 L363.94,278.15 L364.32,277.71 L364.70,277.34 L365.07,277.00 L365.45,276.66 L365.83,276.39 L366.20,276.50 L366.58,276.92 L366.96,277.42 L367.33,278.10 L367.71,278.33 L368.09,278.67 L368.46,278.83 L368.84,279.22 L369.22,279.40 L369.59,279.36 L369.97,279.50 L370.35,279.57 L370.72,279.46 L371.10,279.57 L371.48,279.77 L371.85,279.79 L372.23,279.58 L372.61,279.75 L372.98,279.89 L373.36,279.76 L373.74,280.03 L374.11,280.06 L374.49,280.18 L374.87,279.95 L375.24,280.12 L375.62,280.33 L376.00,280.41 L376.37,281.07 L376.75,281.60 L377.13,282.19 L377.50,282.46 L377.88,282.67 L378.26,282.84 L378.63,282.96 L379.01,283.00" fill="none" stroke="#999999" stroke-width="1.2" stroke-linejoin="round"/>
<path d="M266.00,283.00 L266.38,282.91 L266.75,282.79 L267.13,282.66 L267.51,282.51 L267.88,282.35 L268.26,281.99 L268.64,281.79 L269.01,281.54 L269.39,281.68 L269.77,281.20 L270.14,280.87 L270.52,280.22 L270.90,279.56 L271.27,278.94 L271.65,278.44 L272.03,278.22 L272.40,277.72 L272.78,277.41 L273.16,277.48 L273.53,277.61 L273.91,278.67 L274.29,278.65 L274.66,279.11 L275.04,279.43 L275.42,278.23 L275.79,278.09 L276.17,277.79 L276.55,277.50 L276.92,276.53 L277.30,276.02 L277.68,275.18 L278.05,274.39 L278.43,273.26 L278.81,273.42 L279.18,273.22 L279.56,272.66 L279.94,272.11 L280.31,271.83 L280.69,271.11 L281.07,271.39 L281.44,271.23 L281.82,270.69 L282.20,269.60 L282.57,269.74 L282.95,269.43 L283.33,268.96 L283.70,268.86 L284.08,267.88 L284.46,267.64 L284.83,267.44 L285.21,267.01 L285.59,266.30 L285.97,265.91 L286.34,265.21 L286.72,264.29 L287.10,264.15 L287.47,263.18 L287.85,262.35 L288.23,262.16 L288.60,261.82 L288.98,261.03 L289.36,260.41 L289.73,259.61 L290.11,258.44 L290.49,258.42 L290.86,257.67 L291.24,256.46 L291.62,256.19 L291.99,255.48 L292.37,255.20 L292.75,254.34 L293.12,253.70 L293.50,253.01 L293.88,252.02 L294.25,251.22 L294.63,250.96 L295.01,250.22 L295.38,249.61 L295.76,248.90 L296.14,248.15 L296.51,247.67 L296.89,246.88 L297.27,245.98 L297.64,244.98 L298.02,244.08 L298.40,243.56 L298.77,243.08 L299.15,242.58 L299.53,241.63 L299.90,241.20 L300.28,240.67 L300.66,240.31 L301.03,239.30 L301.41,238.96 L301.79,238.15 L302.16,237.29 L302.54,236.54 L302.92,236.50 L303.29,236.07 L303.67,235.84 L304.05,234.66 L304.42,234.33 L304.80,233.64 L305.18,232.63 L305.55,232.61 L305.93,231.92 L306.31,231.17 L306.68,231.20 L307.06,230.18 L307.44,229.84 L307.81,229.14 L308.19,228.49 L308.57,228.04 L308.94,227.68 L309.32,226.82 L309.70,226.07 L310.07,226.21 L310.45,225.38 L310.83,224.55 L311.20,224.17 L311.58,223.32 L311.96,223.06 L312.33,222.69 L312.71,221.57 L313.09,221.57 L313.46,220.98 L313.84,220.19 L314.22,219.68 L314.59,218.99 L314.97,218.35 L315.35,217.44 L315.72,217.51 L316.10,216.43 L316.48,215.96 L316.85,215.28 L317.23,214.81 L317.61,214.25 L317.98,213.36 L318.36,213.10 L318.74,212.46 L319.11,211.82 L319.49,211.73 L319.87,211.19 L320.24,210.27 L320.62,209.89 L321.00,209.27 L321.37,208.79 L321.75,208.40 L322.13,208.31 L322.50,207.57 L322.88,207.25 L323.26,207.33 L323.64,206.87 L324.01,207.00 L324.39,206.31 L324.77,206.16 L325.14,205.87 L325.52,205.35 L325.90,205.69 L326.27,205.59 L326.65,205.51 L327.03,205.18 L327.40,205.28 L327.78,205.10 L328.16,205.11 L328.53,204.98 L328.91,205.12 L329.29,204.98 L329.66,205.31 L330.04,205.08 L330.42,205.04 L330.79,205.25 L331.17,205.30 L331.55,205.03 L331.92,205.23 L332.30,205.42 L332.68,205.73 L333.05,205.88 L333.43,206.07 L333.81,206.00 L334.18,206.03 L334.56,206.07 L334.94,206.53 L335.31,206.60 L335.69,206.96 L336.07,207.29 L336.44,207.72 L336.82,207.39 L337.20,207.93 L337.57,207.74 L337.95,208.54 L338.33,208.35 L338.70,208.83 L339.08,208.89 L339.46,209.67 L339.83,209.70 L340.21,210.01 L340.59,210.03 L340.96,210.37 L341.34,210.31 L341.72,210.67 L342.09,211.28 L342.47,210.87 L342.85,211.51 L343.22,212.00 L343.60,212.24 L343.98,212.43 L344.35,212.59 L344.73,213.17 L345.11,213.17 L345.48,213.56 L345.86,213.59 L346.24,214.35 L346.61,214.60 L346.99,215.03 L347.37,214.95 L347.74,215.53 L348.12,216.10 L348.50,216.25 L348.87,216.96 L349.25,217.57 L349.63,217.46 L350.00,217.86 L350.38,217.98 L350.76,218.28 L351.13,218.41 L351.51,219.15 L351.89,219.16 L352.26,219.76 L352.64,220.24 L353.02,220.66 L353.39,221.35 L353.77,222.06 L354.15,222.90 L354.52,223.27 L354.90,224.08 L355.28,224.38 L355.65,224.78 L356.03,225.20 L356.41,225.37 L356.78,225.91 L357.16,226.04 L357.54,226.30 L357.91,226.88 L358.29,226.60 L358.67,226.81 L359.04,227.22 L359.42,227.52 L359.80,227.64 L360.18,228.10 L360.55,228.20 L360.93,228.40 L361.31,228.26 L361.68,229.03 L362.06,228.91 L362.44,228.92 L362.81,229.58 L363.19,229.56 L363.57,229.69 L363.94,229.93 L364.32,230.56 L364.70,230.91 L365.07,231.36 L365.45,232.06 L365.83,232.54 L366.20,232.97 L366.58,233.76 L366.96,234.38 L367.33,234.87 L367.71,235.03 L368.09,235.50 L368.46,235.79 L368.84,236.53 L369.22,236.86 L369.59,237.55 L369.97,237.91 L370.35,238.55 L370.72,238.86 L371.10,239.40 L371.48,239.86 L371.85,239.69 L372.23,240.39 L372.61,241.05 L372.98,241.41 L373.36,241.84 L373.74,242.08 L374.11,242.70 L374.49,242.84 L374.87,243.24 L375.24,243.53 L375.62,244.16 L376.00,244.55 L376.37,244.75 L376.75,245.20 L377.13,245.11 L377.50,246.11 L377.88,245.92 L378.26,246.60 L378.63,246.63 L379.01,247.37 L379.39,247.73 L379.76,248.61 L380.14,248.30 L380.52,248.29 L380.89,249.12 L381.27,249.28 L381.65,249.82 L382.02,249.97 L382.40,249.70 L382.78,250.19 L383.15,250.43 L383.53,250.75 L383.91,250.92 L384.28,251.23 L384.66,251.60 L385.04,251.49 L385.41,251.97 L385.79,252.76 L386.17,253.06 L386.54,253.19 L386.92,253.58 L387.30,253.98 L387.67,254.37 L388.05,254.35 L388.43,254.51 L388.80,255.16 L389.18,255.13 L389.56,255.27 L389.93,255.82 L390.31,255.93 L390.69,256.20 L391.06,256.44 L391.44,256.86 L391.82,256.98 L392.19,257.22 L392.57,257.18 L392.95,257.44 L393.32,257.76 L393.70,258.11 L394.08,258.72 L394.45,258.62 L394.83,258.88 L395.21,259.59 L395.58,259.45 L395.96,259.47 L396.34,259.83 L396.71,259.84 L397.09,260.22 L397.47,260.14 L397.85,259.90 L398.22,260.38 L398.60,259.97 L398.98,260.67 L399.35,260.45 L399.73,260.03 L400.11,261.00 L400.48,260.54 L400.86,260.44 L401.24,261.56 L401.61,261.32 L401.99,261.84 L402.37,262.23 L402.74,262.73 L403.12,263.28 L403.50,263.25 L403.87,264.57 L404.25,264.60 L404.63,264.85 L405.00,265.33 L405.38,265.51 L405.76,265.92 L406.13,266.14 L406.51,266.43 L406.89,266.60 L407.26,266.68 L407.64,266.94 L408.02,266.96 L408.39,267.26 L408.77,266.97 L409.15,267.03 L409.52,267.58 L409.90,267.14 L410.28,267.59 L410.65,267.71 L411.03,267.16 L411.41,267.70 L411.78,268.05 L412.16,267.66 L412.54,268.16 L412.91,267.68 L413.29,267.53 L413.67,267.88 L414.04,268.01 L414.42,268.47 L414.80,268.36 L415.17,268.41 L415.55,268.55 L415.93,269.11 L416.30,268.62 L416.68,268.88 L417.06,269.22 L417.43,269.49 L417.81,269.82 L418.19,270.08 L418.56,269.88 L418.94,270.29 L419.32,270.14 L419.69,271.07 L420.07,270.68 L420.45,270.54 L420.82,271.19 L421.20,271.14 L421.58,271.49 L421.95,271.55 L422.33,271.14 L422.71,271.75 L423.08,271.64 L423.46,271.74 L423.84,271.95 L424.21,272.03 L424.59,272.22 L424.97,272.50 L425.34,272.41 L425.72,272.57 L426.10,272.93 L426.47,272.70 L426.85,272.94 L427.23,273.00 L427.60,273.33 L427.98,273.03 L428.36,273.40 L428.73,273.69 L429.11,273.67 L429.49,273.87 L429.86,273.87 L430.24,274.14 L430.62,274.15 L430.99,274.49 L431.37,274.45 L431.75,274.51 L432.12,274.76 L432.50,274.80 L432.88,275.55 L433.25,275.28 L433.63,275.32 L434.01,275.36 L434.38,275.70 L434.76,275.55 L435.14,275.67 L435.51,275.74 L435.89,275.88 L436.27,275.98 L436.65,275.91 L437.02,276.25 L437.40,276.03 L437.78,276.42 L438.15,276.60 L438.53,276.29 L438.91,276.36 L439.28,276.72 L439.66,276.44 L440.04,276.62 L440.41,276.63 L440.79,276.65 L441.17,276.56 L441.54,276.89 L441.92,276.82 L442.30,276.76 L442.67,276.82 L443.05,276.70 L443.43,277.09 L443.80,277.12 L444.18,277.38 L444.56,276.98 L444.93,277.55 L445.31,277.27 L445.69,277.58 L446.06,277.04 L446.44,277.49 L446.82,277.63 L447.19,277.27 L447.57,277.75 L447.95,277.94 L448.32,277.64 L448.70,278.10 L449.08,278.08 L449.45,278.28 L449.83,278.11 L450.21,278.05 L450.58,278.28 L450.96,278.54 L451.34,278.19 L451.71,278.82 L452.09,278.87 L452.47,278.98 L452.84,278.57 L453.22,279.08 L453.60,279.38 L453.97,279.49 L454.35,279.81" fill="none" stroke="#c2112e" stroke-width="2.3" stroke-linejoin="round"/>
</g>
<text x="279.50" y="193.10" font-size="18" font-weight="bold" style="stroke-width:0.6px">d</text>
<path d="M489.05,283.00v-5.7M489.05,169.20v5.7M526.72,283.00v-5.7M526.72,169.20v5.7M564.39,283.00v-5.7M564.39,169.20v5.7M602.06,283.00v-5.7M602.06,169.20v5.7M639.73,283.00v-5.7M639.73,169.20v5.7M677.40,283.00v-5.7M677.40,169.20v5.7M489.05,283.00h5.7M677.40,283.00h-5.7M489.05,266.74h5.7M677.40,266.74h-5.7M489.05,250.49h5.7M677.40,250.49h-5.7M489.05,234.23h5.7M677.40,234.23h-5.7M489.05,217.97h5.7M677.40,217.97h-5.7M489.05,201.71h5.7M677.40,201.71h-5.7M489.05,185.46h5.7M677.40,185.46h-5.7M489.05,169.20h5.7M677.40,169.20h-5.7" stroke="#000" stroke-width="1" fill="none"/>
<text x="489.85" y="297.50" font-size="11.5" text-anchor="middle" textLength="7.31" lengthAdjust="spacingAndGlyphs">0</text>
<text x="527.52" y="297.50" font-size="11.5" text-anchor="middle" textLength="7.31" lengthAdjust="spacingAndGlyphs">2</text>
<text x="565.19" y="297.50" font-size="11.5" text-anchor="middle" textLength="7.31" lengthAdjust="spacingAndGlyphs">4</text>
<text x="602.86" y="297.50" font-size="11.5" text-anchor="middle" textLength="7.31" lengthAdjust="spacingAndGlyphs">6</text>
<text x="640.53" y="297.50" font-size="11.5" text-anchor="middle" textLength="7.31" lengthAdjust="spacingAndGlyphs">8</text>
<text x="678.20" y="297.50" font-size="11.5" text-anchor="middle" textLength="14.63" lengthAdjust="spacingAndGlyphs">10</text>
<text x="485.05" y="286.10" font-size="11.5" text-anchor="end" textLength="18.29" lengthAdjust="spacingAndGlyphs">0.0</text>
<text x="485.05" y="269.84" font-size="11.5" text-anchor="end" textLength="18.29" lengthAdjust="spacingAndGlyphs">0.1</text>
<text x="485.05" y="253.59" font-size="11.5" text-anchor="end" textLength="18.29" lengthAdjust="spacingAndGlyphs">0.2</text>
<text x="485.05" y="237.33" font-size="11.5" text-anchor="end" textLength="18.29" lengthAdjust="spacingAndGlyphs">0.3</text>
<text x="485.05" y="221.07" font-size="11.5" text-anchor="end" textLength="18.29" lengthAdjust="spacingAndGlyphs">0.4</text>
<text x="485.05" y="204.81" font-size="11.5" text-anchor="end" textLength="18.29" lengthAdjust="spacingAndGlyphs">0.5</text>
<text x="485.05" y="188.56" font-size="11.5" text-anchor="end" textLength="18.29" lengthAdjust="spacingAndGlyphs">0.6</text>
<text x="485.05" y="172.30" font-size="11.5" text-anchor="end" textLength="18.29" lengthAdjust="spacingAndGlyphs">0.7</text>
<rect x="489.05" y="169.20" width="188.35" height="113.80" fill="none" stroke="#000" stroke-width="1.6"/>
<clipPath id="c21"><rect x="489.05" y="169.20" width="188.35" height="113.80"/></clipPath>
<g clip-path="url(#c21)">
<path d="M489.05,282.60 L489.99,282.36 L490.93,282.06 L491.88,281.71 L492.82,281.33 L493.76,280.94 L494.70,280.54 L495.64,280.14 L496.58,279.74 L497.53,279.35 L498.47,278.97 L499.41,278.59 L500.35,278.21 L501.29,277.83 L502.23,277.43 L503.18,277.01 L504.12,276.53 L505.06,276.01 L506.00,275.42 L506.94,274.77 L507.88,274.04 L508.83,273.24 L509.77,272.35 L510.71,271.35 L511.65,270.26 L512.59,269.07 L513.54,267.84 L514.48,266.59 L515.42,265.35 L516.36,264.13 L517.30,262.93 L518.24,261.71 L519.19,260.45 L520.13,259.15 L521.07,257.78 L522.01,256.36 L522.95,254.90 L523.89,253.40 L524.84,251.89 L525.78,250.37 L526.72,248.85 L527.66,247.34 L528.60,245.85 L529.55,244.40 L530.49,243.02 L531.43,241.71 L532.37,240.51 L533.31,239.40 L534.25,238.38 L535.20,237.45 L536.14,236.60 L537.08,235.83 L538.02,235.11 L538.96,234.46 L539.90,233.89 L540.85,233.40 L541.79,233.02 L542.73,232.75 L543.67,232.60 L544.61,232.55 L545.56,232.61 L546.50,232.75 L547.44,232.98 L548.38,233.32 L549.32,233.77 L550.26,234.33 L551.21,234.99 L552.15,235.77 L553.09,236.63 L554.03,237.58 L554.97,238.61 L555.91,239.72 L556.86,240.89 L557.80,242.13 L558.74,243.42 L559.68,244.76 L560.62,246.13 L561.56,247.51 L562.51,248.89 L563.45,250.24 L564.39,251.55 L565.33,252.85 L566.27,254.14 L567.22,255.45 L568.16,256.79 L569.10,258.15 L570.04,259.52 L570.98,260.87 L571.92,262.20 L572.87,263.47 L573.81,264.69 L574.75,265.84 L575.69,266.91 L576.63,267.90 L577.57,268.80 L578.52,269.64 L579.46,270.45 L580.40,271.23 L581.34,272.01 L582.28,272.79 L583.23,273.56 L584.17,274.31 L585.11,275.03 L586.05,275.71 L586.99,276.35 L587.93,276.95 L588.88,277.51 L589.82,278.05 L590.76,278.55 L591.70,279.02 L592.64,279.47 L593.58,279.89 L594.53,280.28" fill="none" stroke="#808080" stroke-width="1.4" stroke-linejoin="round" stroke-dasharray="1.3 4.3"/>
<path d="M489.05,282.61 L489.99,282.38 L490.93,282.08 L491.88,281.74 L492.82,281.37 L493.76,280.99 L494.70,280.59 L495.64,280.18 L496.58,279.75 L497.53,279.28 L498.47,278.77 L499.41,278.21 L500.35,277.59 L501.29,276.92 L502.23,276.19 L503.18,275.41 L504.12,274.57 L505.06,273.68 L506.00,272.74 L506.94,271.73 L507.88,270.66 L508.83,269.53 L509.77,268.33 L510.71,267.07 L511.65,265.76 L512.59,264.40 L513.54,263.00 L514.48,261.55 L515.42,260.09 L516.36,258.63 L517.30,257.19 L518.24,255.77 L519.19,254.36 L520.13,252.95 L521.07,251.52 L522.01,250.05 L522.95,248.55 L523.89,247.01 L524.84,245.43 L525.78,243.82 L526.72,242.15 L527.66,240.41 L528.60,238.58 L529.55,236.68 L530.49,234.74 L531.43,232.78 L532.37,230.86 L533.31,229.01 L534.25,227.26 L535.20,225.63 L536.14,224.13 L537.08,222.76 L538.02,221.50 L538.96,220.36 L539.90,219.32 L540.85,218.38 L541.79,217.54 L542.73,216.78 L543.67,216.13 L544.61,215.60 L545.56,215.20 L546.50,214.95 L547.44,214.85 L548.38,214.91 L549.32,215.11 L550.26,215.47 L551.21,215.98 L552.15,216.65 L553.09,217.48 L554.03,218.49 L554.97,219.68 L555.91,221.06 L556.86,222.63 L557.80,224.37 L558.74,226.28 L559.68,228.31 L560.62,230.42 L561.56,232.57 L562.51,234.72 L563.45,236.81 L564.39,238.84 L565.33,240.80 L566.27,242.71 L567.22,244.58 L568.16,246.42 L569.10,248.24 L570.04,250.04 L570.98,251.81 L571.92,253.57 L572.87,255.29 L573.81,256.98 L574.75,258.61 L575.69,260.18 L576.63,261.66 L577.57,263.05 L578.52,264.34 L579.46,265.52 L580.40,266.60 L581.34,267.60 L582.28,268.53 L583.23,269.41 L584.17,270.26 L585.11,271.08 L586.05,271.89 L586.99,272.70 L587.93,273.51 L588.88,274.33 L589.82,275.17 L590.76,275.99 L591.70,276.78 L592.64,277.49 L593.58,278.11 L594.53,278.62 L595.47,279.05 L596.41,279.42 L597.35,279.77 L598.29,280.15 L599.23,280.56 L600.18,281.00 L601.12,281.45 L602.06,281.87 L603.00,282.22 L603.94,282.50" fill="none" stroke="#999999" stroke-width="1.2" stroke-linejoin="round"/>
<path d="M489.05,282.54 L489.99,282.26 L490.93,281.90 L491.88,281.48 L492.82,281.02 L493.76,280.53 L494.70,280.05 L495.64,279.60 L496.58,279.18 L497.53,278.79 L498.47,278.37 L499.41,277.89 L500.35,277.29 L501.29,276.57 L502.23,275.73 L503.18,274.80 L504.12,273.82 L505.06,272.80 L506.00,271.76 L506.94,270.67 L507.88,269.53 L508.83,268.29 L509.77,266.95 L510.71,265.51 L511.65,263.99 L512.59,262.40 L513.54,260.78 L514.48,259.12 L515.42,257.43 L516.36,255.68 L517.30,253.89 L518.24,252.05 L519.19,250.19 L520.13,248.31 L521.07,246.45 L522.01,244.60 L522.95,242.77 L523.89,240.95 L524.84,239.11 L525.78,237.22 L526.72,235.28 L527.66,233.27 L528.60,231.18 L529.55,229.04 L530.49,226.86 L531.43,224.65 L532.37,222.43 L533.31,220.20 L534.25,218.00 L535.20,215.81 L536.14,213.66 L537.08,211.55 L538.02,209.49 L538.96,207.49 L539.90,205.57 L540.85,203.74 L541.79,202.03 L542.73,200.45 L543.67,198.99 L544.61,197.68 L545.56,196.49 L546.50,195.44 L547.44,194.51 L548.38,193.71 L549.32,193.03 L550.26,192.45 L551.21,191.98 L552.15,191.62 L553.09,191.36 L554.03,191.22 L554.97,191.19 L555.91,191.27 L556.86,191.47 L557.80,191.78 L558.74,192.21 L559.68,192.78 L560.62,193.51 L561.56,194.45 L562.51,195.60 L563.45,196.97 L564.39,198.55 L565.33,200.31 L566.27,202.19 L567.22,204.16 L568.16,206.15 L569.10,208.12 L570.04,210.06 L570.98,211.97 L571.92,213.84 L572.87,215.68 L573.81,217.47 L574.75,219.24 L575.69,221.01 L576.63,222.80 L577.57,224.63 L578.52,226.51 L579.46,228.44 L580.40,230.37 L581.34,232.28 L582.28,234.14 L583.23,235.93 L584.17,237.67 L585.11,239.37 L586.05,241.08 L586.99,242.82 L587.93,244.60 L588.88,246.40 L589.82,248.18 L590.76,249.90 L591.70,251.54 L592.64,253.06 L593.58,254.49 L594.53,255.82 L595.47,257.08 L596.41,258.27 L597.35,259.40 L598.29,260.49 L599.23,261.53 L600.18,262.53 L601.12,263.47 L602.06,264.36 L603.00,265.20 L603.94,265.98 L604.89,266.73 L605.83,267.44 L606.77,268.13 L607.71,268.80 L608.65,269.47 L609.59,270.13 L610.54,270.77 L611.48,271.40 L612.42,272.02 L613.36,272.61 L614.30,273.17 L615.24,273.71 L616.19,274.21 L617.13,274.67 L618.07,275.07 L619.01,275.43 L619.95,275.75 L620.89,276.04 L621.84,276.32 L622.78,276.62 L623.72,276.95 L624.66,277.31 L625.60,277.68 L626.55,278.06 L627.49,278.41 L628.43,278.73 L629.37,279.00 L630.31,279.22 L631.25,279.39 L632.20,279.53 L633.14,279.64 L634.08,279.74 L635.02,279.85 L635.96,279.99 L636.90,280.19 L637.85,280.47 L638.79,280.82 L639.73,281.23 L640.67,281.64 L641.61,282.02 L642.56,282.34 L643.50,282.59 L644.44,282.76 L645.38,282.87 L646.32,282.94 L647.26,282.97 L648.21,282.99 L649.15,283.00 L650.09,283.00 L651.03,283.00 L651.97,283.00 L652.91,283.00 L653.86,283.00 L654.80,283.00 L655.74,283.00 L656.68,283.00 L657.62,283.00 L658.57,283.00 L659.51,283.00 L660.45,283.00 L661.39,283.00 L662.33,283.00 L663.27,283.00 L664.22,283.00 L665.16,283.00 L666.10,283.00 L667.04,283.00 L667.98,283.00 L668.92,283.00 L669.87,283.00 L670.81,283.00 L671.75,283.00 L672.69,283.00 L673.63,283.00 L674.57,283.00 L675.52,283.00 L676.46,283.00" fill="none" stroke="#c2112e" stroke-width="2.3" stroke-linejoin="round"/>
</g>
<text x="502.55" y="193.10" font-size="18" font-weight="bold" style="stroke-width:0.6px">f</text>
<text x="137.68" y="10.7" font-size="14.1" text-anchor="middle" textLength="116.89" lengthAdjust="spacingAndGlyphs">Ravasz-Barabasi</text>
<text x="360.68" y="10.7" font-size="14.1" text-anchor="middle" textLength="108.89" lengthAdjust="spacingAndGlyphs">Nested random</text>
<text x="583.73" y="10.7" font-size="14.1" text-anchor="middle" textLength="132.34" lengthAdjust="spacingAndGlyphs">Nested centralised</text>
<text x="137.68" y="317.6" font-size="14.1" text-anchor="middle" textLength="144.20" lengthAdjust="spacingAndGlyphs">Coupling strength, g</text>
<text x="360.68" y="317.6" font-size="14.1" text-anchor="middle" textLength="144.20" lengthAdjust="spacingAndGlyphs">Coupling strength, g</text>
<text x="583.73" y="317.6" font-size="14.1" text-anchor="middle" textLength="144.20" lengthAdjust="spacingAndGlyphs">Coupling strength, g</text>
<text transform="translate(10.6,74.6) rotate(-90)" font-size="14.1" text-anchor="middle" textLength="119.13" lengthAdjust="spacingAndGlyphs">Mean correlation</text>
<text transform="translate(10.6,225.6) rotate(-90)" font-size="14.1" text-anchor="middle" textLength="79.89" lengthAdjust="spacingAndGlyphs">Complexity</text>
<path d="M375.2,62.0H389.0" stroke="#c2112e" stroke-width="2.3"/>
<path d="M375.2,74.5H389.0" stroke="#999999" stroke-width="1.2"/>
<path d="M376.2,86.9H389.0" stroke="#808080" stroke-width="1.4" stroke-dasharray="1.3 4.3"/>
<text x="397.3" y="65.2" font-size="8.6" textLength="50.86" lengthAdjust="spacingAndGlyphs">Hierarchical</text>
<text x="397.3" y="77.4" font-size="8.6" textLength="34.57" lengthAdjust="spacingAndGlyphs">Rewired</text>
<text x="397.3" y="89.8" font-size="8.6" textLength="35.39" lengthAdjust="spacingAndGlyphs">Random</text>
</svg></body></html>
